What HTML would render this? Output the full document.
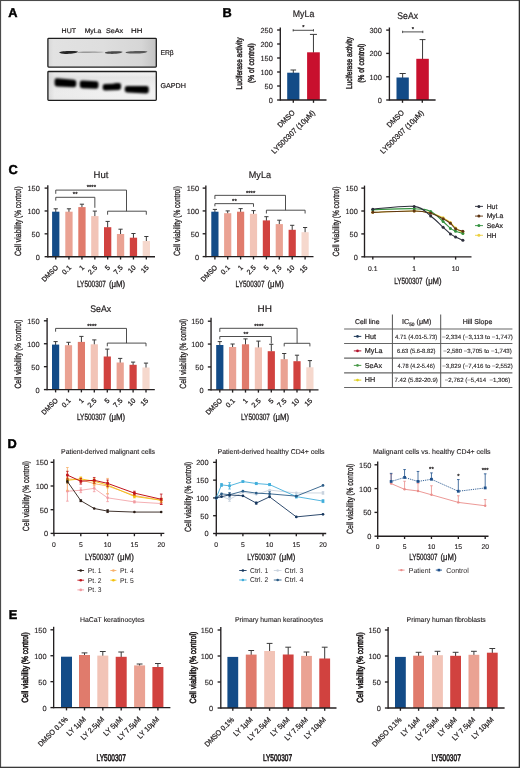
<!DOCTYPE html>
<html><head><meta charset="utf-8"><title>Figure</title><style>html,body{margin:0;padding:0;background:#fff;}svg{display:block;will-change:transform;}text{font-family:"Liberation Sans", sans-serif;text-rendering:geometricPrecision;stroke:#231f20;stroke-width:0.25px;} .t{stroke:none;} .t2{stroke-width:0.2px;} .t3{stroke-width:0.12px;} .tk{stroke-width:0.12px;} .pl{stroke:#000;stroke-width:0.45px;} .c{stroke-width:0.3px;} .cm{stroke-width:0.45px;} .cb{stroke-width:0.6px;}</style></head><body>
<svg width="520" height="768" viewBox="0 0 520 768" font-family='"Liberation Sans", sans-serif' fill="#231f20">
<defs><filter id="bl1" x="-20%" y="-100%" width="140%" height="300%"><feGaussianBlur stdDeviation="0.75"/></filter><filter id="bl2" x="-20%" y="-100%" width="140%" height="300%"><feGaussianBlur stdDeviation="0.8"/></filter><linearGradient id="g1" x1="0" y1="0" x2="1" y2="0"><stop offset="0" stop-color="#d6d6d6"/><stop offset="0.05" stop-color="#e2e2e2"/><stop offset="0.5" stop-color="#dedede"/><stop offset="0.86" stop-color="#d6d6d6"/><stop offset="1" stop-color="#c2c2c2"/></linearGradient><linearGradient id="g2" x1="0" y1="0" x2="1" y2="0"><stop offset="0" stop-color="#cfcfcf"/><stop offset="0.06" stop-color="#e6e6e6"/><stop offset="0.5" stop-color="#ececec"/><stop offset="1" stop-color="#efefef"/></linearGradient><linearGradient id="g3" x1="0" y1="0" x2="0" y2="1"><stop offset="0" stop-color="#ffffff" stop-opacity="0"/><stop offset="0.2" stop-color="#d8d8d8" stop-opacity="0.4"/><stop offset="0.8" stop-color="#ffffff" stop-opacity="0.2"/><stop offset="1" stop-color="#ffffff" stop-opacity="0.1"/></linearGradient></defs>
<rect x="0.00" y="0.00" width="520.00" height="768.00" fill="#ffffff"/>
<text x="8.20" y="16.80" font-size="12.8" class="pl" fill="#000" font-weight="bold">A</text>
<text x="222.60" y="16.80" font-size="12.8" class="pl" fill="#000" font-weight="bold">B</text>
<text x="8.40" y="174.40" font-size="12.8" class="pl" fill="#000" font-weight="bold">C</text>
<text x="7.60" y="447.70" font-size="12.8" class="pl" fill="#000" font-weight="bold">D</text>
<text x="8.80" y="619.00" font-size="12.8" class="pl" fill="#000" font-weight="bold">E</text>
<rect x="47.80" y="38.30" width="108.90" height="28.80" fill="url(#g1)"/>
<g filter="url(#bl1)">
<path d="M59.0,52.6 C61,50.9 72,50.7 77.9,51.4 C77.9,52.6 74,53.4 69,53.8 C64,54.2 60.3,53.9 59.0,52.6 Z" fill="#262626"/>
<path d="M77.5,52.0 C85,51.4 98,51.4 104.5,52.1 C98,53.1 85,53.1 77.5,52.7 Z" fill="#999999"/>
<path d="M104.8,52.8 C106.3,51.2 118,51.0 122.5,51.8 C122.5,53.0 118,53.8 112,53.9 C107,53.9 105.3,53.6 104.8,52.8 Z" fill="#484848"/>
<path d="M125.4,52.5 C127,51.1 142,50.8 147.4,51.4 C147.4,52.6 142,53.4 135,53.6 C129,53.7 126.2,53.4 125.4,52.5 Z" fill="#585858"/>
</g>
<rect x="47.9" y="38.4" width="108.4" height="28.7" rx="0.8" fill="none" stroke="#1e1e1e" stroke-width="1.3"/>
<rect x="47.80" y="71.40" width="108.90" height="29.00" fill="url(#g2)"/>
<rect x="47.8" y="71.4" width="108.9" height="29.0" fill="url(#g3)"/>
<g filter="url(#bl2)">
<path d="M54.6,80.2 Q54.6,78.2 57.0,78.3 L74.0,79.7 Q76.3,79.9 76.3,82.1 L76.2,85.2 Q76.1,87.3 73.8,87.3 L57.2,86.5 Q54.7,86.4 54.6,84.2 Z" fill="#060606"/>
<path d="M79.8,82.6 Q79.8,80.6 82.2,80.6 L96.2,81.2 Q98.5,81.3 98.5,83.4 L98.4,86.8 Q98.3,88.8 96.0,88.8 L82.2,88.2 Q79.9,88.1 79.8,86.0 Z" fill="#060606"/>
<path d="M102.7,86.1 Q102.7,84.1 105.1,84.0 L112.8,83.7 L116.0,82.9 L119.0,83.0 Q121.1,83.1 121.1,85.2 L121.0,88.1 Q120.9,89.8 118.8,89.9 L105.2,90.4 Q102.8,90.4 102.7,88.5 Z" fill="#060606"/>
<path d="M124.8,88.1 Q124.8,86.1 127.3,86.1 L146.4,85.9 Q148.8,85.9 148.8,88.3 L148.7,91.5 Q148.6,93.5 146.1,93.5 L127.4,92.5 Q124.9,92.4 124.8,90.5 Z" fill="#060606"/>
</g>
<rect x="47.9" y="71.5" width="108.4" height="28.8" rx="0.8" fill="none" stroke="#1e1e1e" stroke-width="1.3"/>
<text x="61.60" y="32.60" font-size="6.7" class="t2" textLength="14.40" lengthAdjust="spacingAndGlyphs">HUT</text>
<text x="84.70" y="32.60" font-size="6.7" class="t2" textLength="16.60" lengthAdjust="spacingAndGlyphs">MyLa</text>
<text x="106.00" y="32.60" font-size="6.7" class="t2" textLength="17.20" lengthAdjust="spacingAndGlyphs">SeAx</text>
<text x="131.00" y="32.60" font-size="6.7" class="t2" textLength="11.40" lengthAdjust="spacingAndGlyphs">HH</text>
<text x="160.40" y="55.00" font-size="7.0" class="t2" textLength="13.30" lengthAdjust="spacingAndGlyphs">ER&#946;</text>
<text x="160.40" y="88.40" font-size="7.0" class="t2" textLength="25.60" lengthAdjust="spacingAndGlyphs">GAPDH</text>
<line x1="293.30" y1="73.20" x2="293.30" y2="70.00" stroke="#3a3a3a" stroke-width="1.0"/>
<line x1="290.50" y1="70.00" x2="296.10" y2="70.00" stroke="#3a3a3a" stroke-width="1.0"/>
<rect x="287.20" y="72.70" width="12.20" height="27.30" fill="#134b87"/>
<line x1="313.45" y1="52.80" x2="313.45" y2="34.40" stroke="#3a3a3a" stroke-width="1.0"/>
<line x1="309.95" y1="34.40" x2="316.95" y2="34.40" stroke="#3a3a3a" stroke-width="1.0"/>
<rect x="307.10" y="52.30" width="12.70" height="47.70" fill="#c8102e"/>
<line x1="280.30" y1="27.40" x2="280.30" y2="100.67" stroke="#231f20" stroke-width="1.35"/>
<line x1="277.10" y1="30.00" x2="280.30" y2="30.00" stroke="#231f20" stroke-width="1.35"/>
<text x="272.80" y="32.95" font-size="7.4" class="tk" text-anchor="end">250</text>
<line x1="277.10" y1="44.00" x2="280.30" y2="44.00" stroke="#231f20" stroke-width="1.35"/>
<text x="272.80" y="46.95" font-size="7.4" class="tk" text-anchor="end">200</text>
<line x1="277.10" y1="58.00" x2="280.30" y2="58.00" stroke="#231f20" stroke-width="1.35"/>
<text x="272.80" y="60.95" font-size="7.4" class="tk" text-anchor="end">150</text>
<line x1="277.10" y1="72.00" x2="280.30" y2="72.00" stroke="#231f20" stroke-width="1.35"/>
<text x="272.80" y="74.95" font-size="7.4" class="tk" text-anchor="end">100</text>
<line x1="277.10" y1="86.00" x2="280.30" y2="86.00" stroke="#231f20" stroke-width="1.35"/>
<text x="272.80" y="88.95" font-size="7.4" class="tk" text-anchor="end">50</text>
<line x1="277.10" y1="100.00" x2="280.30" y2="100.00" stroke="#231f20" stroke-width="1.35"/>
<text x="272.80" y="102.95" font-size="7.4" class="tk" text-anchor="end">0</text>
<line x1="280.30" y1="100.00" x2="326.50" y2="100.00" stroke="#231f20" stroke-width="1.35"/>
<line x1="293.30" y1="100.00" x2="293.30" y2="102.80" stroke="#231f20" stroke-width="1.35"/>
<line x1="313.50" y1="100.00" x2="313.50" y2="102.80" stroke="#231f20" stroke-width="1.35"/>
<line x1="292.90" y1="30.30" x2="313.80" y2="30.30" stroke="#3a3a3a" stroke-width="0.9"/>
<line x1="293.20" y1="29.10" x2="293.20" y2="31.50" stroke="#3a3a3a" stroke-width="0.8"/>
<line x1="313.50" y1="29.10" x2="313.50" y2="31.50" stroke="#3a3a3a" stroke-width="0.8"/>
<text x="303.30" y="29.20" font-size="5.8" text-anchor="middle">*</text>
<text x="292.80" y="16.90" font-size="9.6" class="t2" textLength="21.50" lengthAdjust="spacingAndGlyphs">MyLa</text>
<text transform="translate(242.26,63.40) rotate(-90)" font-size="8.5" class="cm" text-anchor="middle" textLength="52.00" lengthAdjust="spacingAndGlyphs">Luciferase activity</text>
<text transform="translate(254.16,63.10) rotate(-90)" font-size="8.5" class="cm" text-anchor="middle" textLength="39.60" lengthAdjust="spacingAndGlyphs">(% of control)</text>
<text transform="translate(295.35,113.25) rotate(-45)" font-size="7.6" text-anchor="end" textLength="21.00" lengthAdjust="spacingAndGlyphs">DMSO</text>
<text transform="translate(315.55,113.25) rotate(-45)" font-size="7.6" text-anchor="end" textLength="58.00" lengthAdjust="spacingAndGlyphs">LY500307 (10&#956;M)</text>
<line x1="402.65" y1="78.00" x2="402.65" y2="73.50" stroke="#3a3a3a" stroke-width="1.0"/>
<line x1="399.55" y1="73.50" x2="405.75" y2="73.50" stroke="#3a3a3a" stroke-width="1.0"/>
<rect x="396.50" y="77.50" width="12.30" height="22.50" fill="#134b87"/>
<line x1="422.55" y1="59.30" x2="422.55" y2="39.60" stroke="#3a3a3a" stroke-width="1.0"/>
<line x1="419.60" y1="39.60" x2="425.50" y2="39.60" stroke="#3a3a3a" stroke-width="1.0"/>
<rect x="416.30" y="58.80" width="12.50" height="41.20" fill="#c8102e"/>
<line x1="389.40" y1="27.50" x2="389.40" y2="100.67" stroke="#231f20" stroke-width="1.35"/>
<line x1="386.20" y1="30.10" x2="389.40" y2="30.10" stroke="#231f20" stroke-width="1.35"/>
<text x="381.80" y="33.05" font-size="7.4" class="tk" text-anchor="end">300</text>
<line x1="386.20" y1="53.40" x2="389.40" y2="53.40" stroke="#231f20" stroke-width="1.35"/>
<text x="381.80" y="56.35" font-size="7.4" class="tk" text-anchor="end">200</text>
<line x1="386.20" y1="76.80" x2="389.40" y2="76.80" stroke="#231f20" stroke-width="1.35"/>
<text x="381.80" y="79.75" font-size="7.4" class="tk" text-anchor="end">100</text>
<line x1="386.20" y1="100.00" x2="389.40" y2="100.00" stroke="#231f20" stroke-width="1.35"/>
<text x="381.80" y="102.95" font-size="7.4" class="tk" text-anchor="end">0</text>
<line x1="389.40" y1="100.00" x2="435.60" y2="100.00" stroke="#231f20" stroke-width="1.35"/>
<line x1="402.50" y1="100.00" x2="402.50" y2="102.80" stroke="#231f20" stroke-width="1.35"/>
<line x1="422.30" y1="100.00" x2="422.30" y2="102.80" stroke="#231f20" stroke-width="1.35"/>
<line x1="402.30" y1="31.90" x2="423.10" y2="31.90" stroke="#3a3a3a" stroke-width="0.9"/>
<line x1="402.60" y1="30.70" x2="402.60" y2="33.10" stroke="#3a3a3a" stroke-width="0.8"/>
<line x1="422.80" y1="30.70" x2="422.80" y2="33.10" stroke="#3a3a3a" stroke-width="0.8"/>
<text x="412.80" y="30.70" font-size="5.8" text-anchor="middle">*</text>
<text x="397.30" y="19.30" font-size="9.6" class="t2" textLength="20.70" lengthAdjust="spacingAndGlyphs">SeAx</text>
<text transform="translate(351.87,63.00) rotate(-90)" font-size="8.5" class="cm" text-anchor="middle" textLength="52.20" lengthAdjust="spacingAndGlyphs">Luciferase activity</text>
<text transform="translate(364.46,63.20) rotate(-90)" font-size="8.5" class="cm" text-anchor="middle" textLength="39.00" lengthAdjust="spacingAndGlyphs">(% of control)</text>
<text transform="translate(404.55,113.25) rotate(-45)" font-size="7.6" text-anchor="end" textLength="21.00" lengthAdjust="spacingAndGlyphs">DMSO</text>
<text transform="translate(424.35,113.25) rotate(-45)" font-size="7.6" text-anchor="end" textLength="58.00" lengthAdjust="spacingAndGlyphs">LY500307 (10&#956;M)</text>
<line x1="55.75" y1="212.20" x2="55.75" y2="208.80" stroke="#3a3a3a" stroke-width="1.0"/>
<line x1="53.65" y1="208.80" x2="57.85" y2="208.80" stroke="#3a3a3a" stroke-width="1.0"/>
<rect x="52.10" y="211.70" width="7.30" height="45.00" fill="#134b87"/>
<line x1="68.95" y1="212.20" x2="68.95" y2="208.80" stroke="#3a3a3a" stroke-width="1.0"/>
<line x1="66.85" y1="208.80" x2="71.05" y2="208.80" stroke="#3a3a3a" stroke-width="1.0"/>
<rect x="65.30" y="211.70" width="7.30" height="45.00" fill="#eaa293"/>
<line x1="81.95" y1="207.60" x2="81.95" y2="204.20" stroke="#3a3a3a" stroke-width="1.0"/>
<line x1="79.85" y1="204.20" x2="84.05" y2="204.20" stroke="#3a3a3a" stroke-width="1.0"/>
<rect x="78.30" y="207.10" width="7.30" height="49.60" fill="#e07b6c"/>
<line x1="94.85" y1="216.60" x2="94.85" y2="211.10" stroke="#3a3a3a" stroke-width="1.0"/>
<line x1="92.75" y1="211.10" x2="96.95" y2="211.10" stroke="#3a3a3a" stroke-width="1.0"/>
<rect x="91.20" y="216.10" width="7.30" height="40.60" fill="#f2c4b7"/>
<line x1="107.65" y1="227.70" x2="107.65" y2="221.40" stroke="#3a3a3a" stroke-width="1.0"/>
<line x1="105.55" y1="221.40" x2="109.75" y2="221.40" stroke="#3a3a3a" stroke-width="1.0"/>
<rect x="104.00" y="227.20" width="7.30" height="29.50" fill="#d1423f"/>
<line x1="120.55" y1="234.50" x2="120.55" y2="229.20" stroke="#3a3a3a" stroke-width="1.0"/>
<line x1="118.45" y1="229.20" x2="122.65" y2="229.20" stroke="#3a3a3a" stroke-width="1.0"/>
<rect x="116.90" y="234.00" width="7.30" height="22.70" fill="#eaa293"/>
<line x1="133.45" y1="238.20" x2="133.45" y2="233.50" stroke="#3a3a3a" stroke-width="1.0"/>
<line x1="131.35" y1="233.50" x2="135.55" y2="233.50" stroke="#3a3a3a" stroke-width="1.0"/>
<rect x="129.80" y="237.70" width="7.30" height="19.00" fill="#d1423f"/>
<line x1="146.35" y1="241.50" x2="146.35" y2="236.50" stroke="#3a3a3a" stroke-width="1.0"/>
<line x1="144.25" y1="236.50" x2="148.45" y2="236.50" stroke="#3a3a3a" stroke-width="1.0"/>
<rect x="142.70" y="241.00" width="7.30" height="15.70" fill="#f6d8cd"/>
<line x1="47.80" y1="185.20" x2="47.80" y2="257.38" stroke="#231f20" stroke-width="1.35"/>
<line x1="44.60" y1="188.10" x2="47.80" y2="188.10" stroke="#231f20" stroke-width="1.35"/>
<text x="39.80" y="191.05" font-size="7.4" class="tk" text-anchor="end">150</text>
<line x1="44.60" y1="210.97" x2="47.80" y2="210.97" stroke="#231f20" stroke-width="1.35"/>
<text x="39.80" y="213.91" font-size="7.4" class="tk" text-anchor="end">100</text>
<line x1="44.60" y1="233.83" x2="47.80" y2="233.83" stroke="#231f20" stroke-width="1.35"/>
<text x="39.80" y="236.78" font-size="7.4" class="tk" text-anchor="end">50</text>
<line x1="44.60" y1="256.70" x2="47.80" y2="256.70" stroke="#231f20" stroke-width="1.35"/>
<text x="39.80" y="259.65" font-size="7.4" class="tk" text-anchor="end">0</text>
<line x1="47.80" y1="256.70" x2="155.00" y2="256.70" stroke="#231f20" stroke-width="1.35"/>
<line x1="55.75" y1="256.70" x2="55.75" y2="259.50" stroke="#231f20" stroke-width="1.35"/>
<line x1="68.95" y1="256.70" x2="68.95" y2="259.50" stroke="#231f20" stroke-width="1.35"/>
<line x1="81.95" y1="256.70" x2="81.95" y2="259.50" stroke="#231f20" stroke-width="1.35"/>
<line x1="94.85" y1="256.70" x2="94.85" y2="259.50" stroke="#231f20" stroke-width="1.35"/>
<line x1="107.65" y1="256.70" x2="107.65" y2="259.50" stroke="#231f20" stroke-width="1.35"/>
<line x1="120.55" y1="256.70" x2="120.55" y2="259.50" stroke="#231f20" stroke-width="1.35"/>
<line x1="133.45" y1="256.70" x2="133.45" y2="259.50" stroke="#231f20" stroke-width="1.35"/>
<line x1="146.35" y1="256.70" x2="146.35" y2="259.50" stroke="#231f20" stroke-width="1.35"/>
<path d="M55.75,193.8 V190.1 H126.5 V211.2" stroke="#3a3a3a" stroke-width="0.9" fill="none"/>
<path d="M107.6,214.7 V211.2 H146.3 V214.7" stroke="#3a3a3a" stroke-width="0.9" fill="none"/>
<path d="M55.75,200.6 V197.3 H94.85 V207.8" stroke="#3a3a3a" stroke-width="0.9" fill="none"/>
<text x="75.20" y="196.30" font-size="6.0" text-anchor="middle">**</text>
<text x="91.30" y="189.40" font-size="6.0" text-anchor="middle">****</text>
<text x="100.95" y="177.50" font-size="9.5" class="t2" text-anchor="middle" textLength="14.80" lengthAdjust="spacingAndGlyphs">Hut</text>
<text transform="translate(21.31,256.00) rotate(-90)" font-size="9.0" class="c" textLength="36.54" lengthAdjust="spacingAndGlyphs">Cell viability</text>
<text transform="translate(21.31,186.40) rotate(-90)" font-size="9.0" class="c" text-anchor="end" textLength="31.60" lengthAdjust="spacingAndGlyphs">(% control)</text>
<text transform="translate(58.55,268.10) rotate(-45)" font-size="7.0" text-anchor="end" textLength="20.00" lengthAdjust="spacingAndGlyphs">DMSO</text>
<text transform="translate(71.75,268.10) rotate(-45)" font-size="7.0" text-anchor="end">0.1</text>
<text transform="translate(84.75,268.10) rotate(-45)" font-size="7.0" text-anchor="end">1</text>
<text transform="translate(97.65,268.10) rotate(-45)" font-size="7.0" text-anchor="end">2.5</text>
<text transform="translate(110.45,268.10) rotate(-45)" font-size="7.0" text-anchor="end">5</text>
<text transform="translate(123.35,268.10) rotate(-45)" font-size="7.0" text-anchor="end">7.5</text>
<text transform="translate(136.25,268.10) rotate(-45)" font-size="7.0" text-anchor="end">10</text>
<text transform="translate(149.15,268.10) rotate(-45)" font-size="7.0" text-anchor="end">15</text>
<text x="77.00" y="287.20" font-size="9.0" class="c" textLength="28.92" lengthAdjust="spacingAndGlyphs">LY500307</text>
<text x="108.91" y="287.20" font-size="9.0" class="c" textLength="16.29" lengthAdjust="spacingAndGlyphs">(&#956;M)</text>
<line x1="214.90" y1="212.20" x2="214.90" y2="209.40" stroke="#3a3a3a" stroke-width="1.0"/>
<line x1="212.80" y1="209.40" x2="217.00" y2="209.40" stroke="#3a3a3a" stroke-width="1.0"/>
<rect x="211.30" y="211.70" width="7.20" height="44.90" fill="#134b87"/>
<line x1="227.70" y1="213.70" x2="227.70" y2="210.90" stroke="#3a3a3a" stroke-width="1.0"/>
<line x1="225.60" y1="210.90" x2="229.80" y2="210.90" stroke="#3a3a3a" stroke-width="1.0"/>
<rect x="224.10" y="213.20" width="7.20" height="43.40" fill="#eaa293"/>
<line x1="240.60" y1="212.20" x2="240.60" y2="208.60" stroke="#3a3a3a" stroke-width="1.0"/>
<line x1="238.50" y1="208.60" x2="242.70" y2="208.60" stroke="#3a3a3a" stroke-width="1.0"/>
<rect x="237.00" y="211.70" width="7.20" height="44.90" fill="#e07b6c"/>
<line x1="253.50" y1="214.30" x2="253.50" y2="210.60" stroke="#3a3a3a" stroke-width="1.0"/>
<line x1="251.40" y1="210.60" x2="255.60" y2="210.60" stroke="#3a3a3a" stroke-width="1.0"/>
<rect x="249.90" y="213.80" width="7.20" height="42.80" fill="#f2c4b7"/>
<line x1="266.40" y1="220.90" x2="266.40" y2="216.70" stroke="#3a3a3a" stroke-width="1.0"/>
<line x1="264.30" y1="216.70" x2="268.50" y2="216.70" stroke="#3a3a3a" stroke-width="1.0"/>
<rect x="262.80" y="220.40" width="7.20" height="36.20" fill="#d1423f"/>
<line x1="279.30" y1="224.60" x2="279.30" y2="220.20" stroke="#3a3a3a" stroke-width="1.0"/>
<line x1="277.20" y1="220.20" x2="281.40" y2="220.20" stroke="#3a3a3a" stroke-width="1.0"/>
<rect x="275.70" y="224.10" width="7.20" height="32.50" fill="#eaa293"/>
<line x1="292.20" y1="230.30" x2="292.20" y2="225.30" stroke="#3a3a3a" stroke-width="1.0"/>
<line x1="290.10" y1="225.30" x2="294.30" y2="225.30" stroke="#3a3a3a" stroke-width="1.0"/>
<rect x="288.60" y="229.80" width="7.20" height="26.80" fill="#d1423f"/>
<line x1="305.10" y1="232.70" x2="305.10" y2="227.50" stroke="#3a3a3a" stroke-width="1.0"/>
<line x1="303.00" y1="227.50" x2="307.20" y2="227.50" stroke="#3a3a3a" stroke-width="1.0"/>
<rect x="301.50" y="232.20" width="7.20" height="24.40" fill="#f6d8cd"/>
<line x1="205.85" y1="185.50" x2="205.85" y2="257.28" stroke="#231f20" stroke-width="1.35"/>
<line x1="202.65" y1="188.10" x2="205.85" y2="188.10" stroke="#231f20" stroke-width="1.35"/>
<text x="199.00" y="191.05" font-size="7.4" class="tk" text-anchor="end">150</text>
<line x1="202.65" y1="210.93" x2="205.85" y2="210.93" stroke="#231f20" stroke-width="1.35"/>
<text x="199.00" y="213.88" font-size="7.4" class="tk" text-anchor="end">100</text>
<line x1="202.65" y1="233.77" x2="205.85" y2="233.77" stroke="#231f20" stroke-width="1.35"/>
<text x="199.00" y="236.71" font-size="7.4" class="tk" text-anchor="end">50</text>
<line x1="202.65" y1="256.60" x2="205.85" y2="256.60" stroke="#231f20" stroke-width="1.35"/>
<text x="199.00" y="259.55" font-size="7.4" class="tk" text-anchor="end">0</text>
<line x1="205.85" y1="256.60" x2="313.50" y2="256.60" stroke="#231f20" stroke-width="1.35"/>
<line x1="214.90" y1="256.60" x2="214.90" y2="259.40" stroke="#231f20" stroke-width="1.35"/>
<line x1="227.70" y1="256.60" x2="227.70" y2="259.40" stroke="#231f20" stroke-width="1.35"/>
<line x1="240.60" y1="256.60" x2="240.60" y2="259.40" stroke="#231f20" stroke-width="1.35"/>
<line x1="253.50" y1="256.60" x2="253.50" y2="259.40" stroke="#231f20" stroke-width="1.35"/>
<line x1="266.40" y1="256.60" x2="266.40" y2="259.40" stroke="#231f20" stroke-width="1.35"/>
<line x1="279.30" y1="256.60" x2="279.30" y2="259.40" stroke="#231f20" stroke-width="1.35"/>
<line x1="292.20" y1="256.60" x2="292.20" y2="259.40" stroke="#231f20" stroke-width="1.35"/>
<line x1="305.10" y1="256.60" x2="305.10" y2="259.40" stroke="#231f20" stroke-width="1.35"/>
<path d="M214.9,199.0 V195.35 H285.5 V210.2" stroke="#3a3a3a" stroke-width="0.9" fill="none"/>
<path d="M266.4,213.5 V210.2 H305.1 V213.5" stroke="#3a3a3a" stroke-width="0.9" fill="none"/>
<path d="M214.9,206.3 V203.65 H253.5 V206.8" stroke="#3a3a3a" stroke-width="0.9" fill="none"/>
<text x="234.40" y="202.80" font-size="6.0" text-anchor="middle">**</text>
<text x="250.60" y="194.60" font-size="6.0" text-anchor="middle">****</text>
<text x="259.90" y="177.50" font-size="9.5" class="t2" text-anchor="middle" textLength="22.20" lengthAdjust="spacingAndGlyphs">MyLa</text>
<text transform="translate(180.21,255.90) rotate(-90)" font-size="9.0" class="c" textLength="36.64" lengthAdjust="spacingAndGlyphs">Cell viability</text>
<text transform="translate(180.21,186.10) rotate(-90)" font-size="9.0" class="c" text-anchor="end" textLength="31.69" lengthAdjust="spacingAndGlyphs">(% control)</text>
<text transform="translate(217.70,268.00) rotate(-45)" font-size="7.0" text-anchor="end" textLength="20.00" lengthAdjust="spacingAndGlyphs">DMSO</text>
<text transform="translate(230.50,268.00) rotate(-45)" font-size="7.0" text-anchor="end">0.1</text>
<text transform="translate(243.40,268.00) rotate(-45)" font-size="7.0" text-anchor="end">1</text>
<text transform="translate(256.30,268.00) rotate(-45)" font-size="7.0" text-anchor="end">2.5</text>
<text transform="translate(269.20,268.00) rotate(-45)" font-size="7.0" text-anchor="end">5</text>
<text transform="translate(282.10,268.00) rotate(-45)" font-size="7.0" text-anchor="end">7.5</text>
<text transform="translate(295.00,268.00) rotate(-45)" font-size="7.0" text-anchor="end">10</text>
<text transform="translate(307.90,268.00) rotate(-45)" font-size="7.0" text-anchor="end">15</text>
<text x="235.60" y="287.20" font-size="9.0" class="c" textLength="28.92" lengthAdjust="spacingAndGlyphs">LY500307</text>
<text x="267.51" y="287.20" font-size="9.0" class="c" textLength="16.29" lengthAdjust="spacingAndGlyphs">(&#956;M)</text>
<line x1="55.60" y1="345.10" x2="55.60" y2="341.60" stroke="#3a3a3a" stroke-width="1.0"/>
<line x1="53.50" y1="341.60" x2="57.70" y2="341.60" stroke="#3a3a3a" stroke-width="1.0"/>
<rect x="52.00" y="344.60" width="7.20" height="45.00" fill="#134b87"/>
<line x1="68.50" y1="345.70" x2="68.50" y2="342.30" stroke="#3a3a3a" stroke-width="1.0"/>
<line x1="66.40" y1="342.30" x2="70.60" y2="342.30" stroke="#3a3a3a" stroke-width="1.0"/>
<rect x="64.90" y="345.20" width="7.20" height="44.40" fill="#eaa293"/>
<line x1="81.40" y1="342.40" x2="81.40" y2="336.40" stroke="#3a3a3a" stroke-width="1.0"/>
<line x1="79.30" y1="336.40" x2="83.50" y2="336.40" stroke="#3a3a3a" stroke-width="1.0"/>
<rect x="77.80" y="341.90" width="7.20" height="47.70" fill="#e07b6c"/>
<line x1="94.30" y1="344.80" x2="94.30" y2="339.90" stroke="#3a3a3a" stroke-width="1.0"/>
<line x1="92.20" y1="339.90" x2="96.40" y2="339.90" stroke="#3a3a3a" stroke-width="1.0"/>
<rect x="90.70" y="344.30" width="7.20" height="45.30" fill="#f2c4b7"/>
<line x1="107.30" y1="357.00" x2="107.30" y2="349.10" stroke="#3a3a3a" stroke-width="1.0"/>
<line x1="105.20" y1="349.10" x2="109.40" y2="349.10" stroke="#3a3a3a" stroke-width="1.0"/>
<rect x="103.70" y="356.50" width="7.20" height="33.10" fill="#d1423f"/>
<line x1="120.20" y1="363.00" x2="120.20" y2="358.40" stroke="#3a3a3a" stroke-width="1.0"/>
<line x1="118.10" y1="358.40" x2="122.30" y2="358.40" stroke="#3a3a3a" stroke-width="1.0"/>
<rect x="116.60" y="362.50" width="7.20" height="27.10" fill="#eaa293"/>
<line x1="133.10" y1="365.30" x2="133.10" y2="362.10" stroke="#3a3a3a" stroke-width="1.0"/>
<line x1="131.00" y1="362.10" x2="135.20" y2="362.10" stroke="#3a3a3a" stroke-width="1.0"/>
<rect x="129.50" y="364.80" width="7.20" height="24.80" fill="#d1423f"/>
<line x1="146.00" y1="368.00" x2="146.00" y2="363.10" stroke="#3a3a3a" stroke-width="1.0"/>
<line x1="143.90" y1="363.10" x2="148.10" y2="363.10" stroke="#3a3a3a" stroke-width="1.0"/>
<rect x="142.40" y="367.50" width="7.20" height="22.10" fill="#f6d8cd"/>
<line x1="47.10" y1="317.90" x2="47.10" y2="390.28" stroke="#231f20" stroke-width="1.35"/>
<line x1="43.90" y1="320.80" x2="47.10" y2="320.80" stroke="#231f20" stroke-width="1.35"/>
<text x="39.60" y="323.75" font-size="7.4" class="tk" text-anchor="end">150</text>
<line x1="43.90" y1="343.73" x2="47.10" y2="343.73" stroke="#231f20" stroke-width="1.35"/>
<text x="39.60" y="346.68" font-size="7.4" class="tk" text-anchor="end">100</text>
<line x1="43.90" y1="366.67" x2="47.10" y2="366.67" stroke="#231f20" stroke-width="1.35"/>
<text x="39.60" y="369.61" font-size="7.4" class="tk" text-anchor="end">50</text>
<line x1="43.90" y1="389.60" x2="47.10" y2="389.60" stroke="#231f20" stroke-width="1.35"/>
<text x="39.60" y="392.55" font-size="7.4" class="tk" text-anchor="end">0</text>
<line x1="47.10" y1="389.60" x2="154.80" y2="389.60" stroke="#231f20" stroke-width="1.35"/>
<line x1="55.60" y1="389.60" x2="55.60" y2="392.40" stroke="#231f20" stroke-width="1.35"/>
<line x1="68.50" y1="389.60" x2="68.50" y2="392.40" stroke="#231f20" stroke-width="1.35"/>
<line x1="81.40" y1="389.60" x2="81.40" y2="392.40" stroke="#231f20" stroke-width="1.35"/>
<line x1="94.30" y1="389.60" x2="94.30" y2="392.40" stroke="#231f20" stroke-width="1.35"/>
<line x1="107.30" y1="389.60" x2="107.30" y2="392.40" stroke="#231f20" stroke-width="1.35"/>
<line x1="120.20" y1="389.60" x2="120.20" y2="392.40" stroke="#231f20" stroke-width="1.35"/>
<line x1="133.10" y1="389.60" x2="133.10" y2="392.40" stroke="#231f20" stroke-width="1.35"/>
<line x1="146.00" y1="389.60" x2="146.00" y2="392.40" stroke="#231f20" stroke-width="1.35"/>
<path d="M55.6,331.7 V328.4 H126.5 V343.1" stroke="#3a3a3a" stroke-width="0.9" fill="none"/>
<path d="M107.3,346.3 V343.1 H146.0 V346.3" stroke="#3a3a3a" stroke-width="0.9" fill="none"/>
<text x="91.90" y="327.70" font-size="6.0" text-anchor="middle">****</text>
<text x="100.70" y="311.60" font-size="9.5" class="t2" text-anchor="middle" textLength="20.90" lengthAdjust="spacingAndGlyphs">SeAx</text>
<text transform="translate(21.01,388.60) rotate(-90)" font-size="9.0" class="c" textLength="36.28" lengthAdjust="spacingAndGlyphs">Cell viability</text>
<text transform="translate(21.01,319.50) rotate(-90)" font-size="9.0" class="c" text-anchor="end" textLength="31.37" lengthAdjust="spacingAndGlyphs">(% control)</text>
<text transform="translate(58.40,401.00) rotate(-45)" font-size="7.0" text-anchor="end" textLength="20.00" lengthAdjust="spacingAndGlyphs">DMSO</text>
<text transform="translate(71.30,401.00) rotate(-45)" font-size="7.0" text-anchor="end">0.1</text>
<text transform="translate(84.20,401.00) rotate(-45)" font-size="7.0" text-anchor="end">1</text>
<text transform="translate(97.10,401.00) rotate(-45)" font-size="7.0" text-anchor="end">2.5</text>
<text transform="translate(110.10,401.00) rotate(-45)" font-size="7.0" text-anchor="end">5</text>
<text transform="translate(123.00,401.00) rotate(-45)" font-size="7.0" text-anchor="end">7.5</text>
<text transform="translate(135.90,401.00) rotate(-45)" font-size="7.0" text-anchor="end">10</text>
<text transform="translate(148.80,401.00) rotate(-45)" font-size="7.0" text-anchor="end">15</text>
<text x="77.00" y="420.20" font-size="9.0" class="c" textLength="28.92" lengthAdjust="spacingAndGlyphs">LY500307</text>
<text x="108.91" y="420.20" font-size="9.0" class="c" textLength="16.29" lengthAdjust="spacingAndGlyphs">(&#956;M)</text>
<line x1="219.80" y1="345.50" x2="219.80" y2="341.60" stroke="#3a3a3a" stroke-width="1.0"/>
<line x1="217.70" y1="341.60" x2="221.90" y2="341.60" stroke="#3a3a3a" stroke-width="1.0"/>
<rect x="216.20" y="345.00" width="7.20" height="44.80" fill="#134b87"/>
<line x1="232.60" y1="347.50" x2="232.60" y2="344.00" stroke="#3a3a3a" stroke-width="1.0"/>
<line x1="230.50" y1="344.00" x2="234.70" y2="344.00" stroke="#3a3a3a" stroke-width="1.0"/>
<rect x="229.00" y="347.00" width="7.20" height="42.80" fill="#eaa293"/>
<line x1="245.50" y1="344.80" x2="245.50" y2="338.90" stroke="#3a3a3a" stroke-width="1.0"/>
<line x1="243.40" y1="338.90" x2="247.60" y2="338.90" stroke="#3a3a3a" stroke-width="1.0"/>
<rect x="241.90" y="344.30" width="7.20" height="45.50" fill="#e07b6c"/>
<line x1="258.40" y1="347.90" x2="258.40" y2="341.10" stroke="#3a3a3a" stroke-width="1.0"/>
<line x1="256.30" y1="341.10" x2="260.50" y2="341.10" stroke="#3a3a3a" stroke-width="1.0"/>
<rect x="254.80" y="347.40" width="7.20" height="42.40" fill="#f2c4b7"/>
<line x1="271.30" y1="351.70" x2="271.30" y2="344.30" stroke="#3a3a3a" stroke-width="1.0"/>
<line x1="269.20" y1="344.30" x2="273.40" y2="344.30" stroke="#3a3a3a" stroke-width="1.0"/>
<rect x="267.70" y="351.20" width="7.20" height="38.60" fill="#d1423f"/>
<line x1="284.20" y1="359.70" x2="284.20" y2="353.50" stroke="#3a3a3a" stroke-width="1.0"/>
<line x1="282.10" y1="353.50" x2="286.30" y2="353.50" stroke="#3a3a3a" stroke-width="1.0"/>
<rect x="280.60" y="359.20" width="7.20" height="30.60" fill="#eaa293"/>
<line x1="297.00" y1="361.70" x2="297.00" y2="355.20" stroke="#3a3a3a" stroke-width="1.0"/>
<line x1="294.90" y1="355.20" x2="299.10" y2="355.20" stroke="#3a3a3a" stroke-width="1.0"/>
<rect x="293.40" y="361.20" width="7.20" height="28.60" fill="#d1423f"/>
<line x1="309.90" y1="367.80" x2="309.90" y2="360.60" stroke="#3a3a3a" stroke-width="1.0"/>
<line x1="307.80" y1="360.60" x2="312.00" y2="360.60" stroke="#3a3a3a" stroke-width="1.0"/>
<rect x="306.30" y="367.30" width="7.20" height="22.50" fill="#f6d8cd"/>
<line x1="211.05" y1="317.80" x2="211.05" y2="390.48" stroke="#231f20" stroke-width="1.35"/>
<line x1="207.85" y1="321.20" x2="211.05" y2="321.20" stroke="#231f20" stroke-width="1.35"/>
<text x="203.60" y="324.15" font-size="7.4" class="tk" text-anchor="end">150</text>
<line x1="207.85" y1="344.07" x2="211.05" y2="344.07" stroke="#231f20" stroke-width="1.35"/>
<text x="203.60" y="347.01" font-size="7.4" class="tk" text-anchor="end">100</text>
<line x1="207.85" y1="366.93" x2="211.05" y2="366.93" stroke="#231f20" stroke-width="1.35"/>
<text x="203.60" y="369.88" font-size="7.4" class="tk" text-anchor="end">50</text>
<line x1="207.85" y1="389.80" x2="211.05" y2="389.80" stroke="#231f20" stroke-width="1.35"/>
<text x="203.60" y="392.75" font-size="7.4" class="tk" text-anchor="end">0</text>
<line x1="211.05" y1="389.80" x2="318.50" y2="389.80" stroke="#231f20" stroke-width="1.35"/>
<line x1="219.80" y1="389.80" x2="219.80" y2="392.60" stroke="#231f20" stroke-width="1.35"/>
<line x1="232.60" y1="389.80" x2="232.60" y2="392.60" stroke="#231f20" stroke-width="1.35"/>
<line x1="245.50" y1="389.80" x2="245.50" y2="392.60" stroke="#231f20" stroke-width="1.35"/>
<line x1="258.40" y1="389.80" x2="258.40" y2="392.60" stroke="#231f20" stroke-width="1.35"/>
<line x1="271.30" y1="389.80" x2="271.30" y2="392.60" stroke="#231f20" stroke-width="1.35"/>
<line x1="284.20" y1="389.80" x2="284.20" y2="392.60" stroke="#231f20" stroke-width="1.35"/>
<line x1="297.00" y1="389.80" x2="297.00" y2="392.60" stroke="#231f20" stroke-width="1.35"/>
<line x1="309.90" y1="389.80" x2="309.90" y2="392.60" stroke="#231f20" stroke-width="1.35"/>
<path d="M219.8,331.9 V328.3 H297.1 V343.3" stroke="#3a3a3a" stroke-width="0.9" fill="none"/>
<path d="M284.2,346.4 V343.3 H309.9 V346.4" stroke="#3a3a3a" stroke-width="0.9" fill="none"/>
<path d="M219.8,339.4 V336.5 H271.3 V343.5" stroke="#3a3a3a" stroke-width="0.9" fill="none"/>
<text x="245.90" y="336.00" font-size="6.0" text-anchor="middle">**</text>
<text x="258.90" y="327.90" font-size="6.0" text-anchor="middle">****</text>
<text x="264.70" y="311.50" font-size="9.5" class="t2" text-anchor="middle" textLength="14.40" lengthAdjust="spacingAndGlyphs">HH</text>
<text transform="translate(185.61,388.80) rotate(-90)" font-size="9.0" class="c" textLength="36.75" lengthAdjust="spacingAndGlyphs">Cell viability</text>
<text transform="translate(185.61,318.80) rotate(-90)" font-size="9.0" class="c" text-anchor="end" textLength="31.78" lengthAdjust="spacingAndGlyphs">(% control)</text>
<text transform="translate(222.60,401.20) rotate(-45)" font-size="7.0" text-anchor="end" textLength="20.00" lengthAdjust="spacingAndGlyphs">DMSO</text>
<text transform="translate(235.40,401.20) rotate(-45)" font-size="7.0" text-anchor="end">0.1</text>
<text transform="translate(248.30,401.20) rotate(-45)" font-size="7.0" text-anchor="end">1</text>
<text transform="translate(261.20,401.20) rotate(-45)" font-size="7.0" text-anchor="end">2.5</text>
<text transform="translate(274.10,401.20) rotate(-45)" font-size="7.0" text-anchor="end">5</text>
<text transform="translate(287.00,401.20) rotate(-45)" font-size="7.0" text-anchor="end">7.5</text>
<text transform="translate(299.80,401.20) rotate(-45)" font-size="7.0" text-anchor="end">10</text>
<text transform="translate(312.70,401.20) rotate(-45)" font-size="7.0" text-anchor="end">15</text>
<text x="241.00" y="420.20" font-size="9.0" class="c" textLength="28.92" lengthAdjust="spacingAndGlyphs">LY500307</text>
<text x="272.91" y="420.20" font-size="9.0" class="c" textLength="16.29" lengthAdjust="spacingAndGlyphs">(&#956;M)</text>
<line x1="364.50" y1="185.60" x2="364.50" y2="257.48" stroke="#231f20" stroke-width="1.35"/>
<line x1="361.30" y1="188.10" x2="364.50" y2="188.10" stroke="#231f20" stroke-width="1.35"/>
<text x="357.80" y="191.05" font-size="7.4" class="tk" text-anchor="end">150</text>
<line x1="361.30" y1="211.00" x2="364.50" y2="211.00" stroke="#231f20" stroke-width="1.35"/>
<text x="357.80" y="213.95" font-size="7.4" class="tk" text-anchor="end">100</text>
<line x1="361.30" y1="233.90" x2="364.50" y2="233.90" stroke="#231f20" stroke-width="1.35"/>
<text x="357.80" y="236.85" font-size="7.4" class="tk" text-anchor="end">50</text>
<line x1="361.30" y1="256.80" x2="364.50" y2="256.80" stroke="#231f20" stroke-width="1.35"/>
<text x="357.80" y="259.75" font-size="7.4" class="tk" text-anchor="end">0</text>
<line x1="364.50" y1="256.80" x2="471.50" y2="256.80" stroke="#231f20" stroke-width="1.35"/>
<line x1="372.80" y1="256.80" x2="372.80" y2="259.60" stroke="#231f20" stroke-width="1.35"/>
<line x1="414.20" y1="256.80" x2="414.20" y2="259.60" stroke="#231f20" stroke-width="1.35"/>
<line x1="455.60" y1="256.80" x2="455.60" y2="259.60" stroke="#231f20" stroke-width="1.35"/>
<text x="372.80" y="270.50" font-size="6.8" class="tk" text-anchor="middle">0.1</text>
<text x="414.20" y="270.50" font-size="6.8" class="tk" text-anchor="middle">1</text>
<text x="455.60" y="270.50" font-size="6.8" class="tk" text-anchor="middle">10</text>
<text x="394.20" y="284.00" font-size="9.0" class="c" textLength="28.44" lengthAdjust="spacingAndGlyphs">LY500307</text>
<text x="425.58" y="284.00" font-size="9.0" class="c" textLength="16.02" lengthAdjust="spacingAndGlyphs">(&#956;M)</text>
<text transform="translate(338.91,256.40) rotate(-90)" font-size="9.0" class="c" textLength="36.70" lengthAdjust="spacingAndGlyphs">Cell viability</text>
<text transform="translate(338.91,186.50) rotate(-90)" font-size="9.0" class="c" text-anchor="end" textLength="31.73" lengthAdjust="spacingAndGlyphs">(% control)</text>
<path d="M372.80,212.37 C379.70,212.14 404.55,210.92 414.20,211.00 C423.85,211.08 425.85,211.69 430.67,212.83 C435.50,213.98 439.85,216.27 443.14,217.87 C446.43,219.47 448.35,220.77 450.43,222.45 C452.50,224.13 453.52,226.19 455.60,227.95 C457.68,229.70 461.68,232.14 462.89,232.98" stroke="#ecd040" stroke-width="1.1" fill="none"/>
<circle cx="372.80" cy="212.37" r="1.5" fill="#ecd040"/>
<circle cx="414.20" cy="211.00" r="1.5" fill="#ecd040"/>
<circle cx="430.67" cy="212.83" r="1.5" fill="#ecd040"/>
<circle cx="443.14" cy="217.87" r="1.5" fill="#ecd040"/>
<circle cx="450.43" cy="222.45" r="1.5" fill="#ecd040"/>
<circle cx="455.60" cy="227.95" r="1.5" fill="#ecd040"/>
<circle cx="462.89" cy="232.98" r="1.5" fill="#ecd040"/>
<path d="M372.80,209.63 C379.70,209.47 404.55,208.40 414.20,208.71 C423.85,209.02 425.85,209.32 430.67,211.46 C435.50,213.60 439.85,218.71 443.14,221.53 C446.43,224.36 448.35,226.80 450.43,228.40 C452.50,230.01 453.52,230.31 455.60,231.15 C457.68,231.99 461.68,233.06 462.89,233.44" stroke="#33923f" stroke-width="1.1" fill="none"/>
<circle cx="372.80" cy="209.63" r="1.5" fill="#33923f"/>
<circle cx="414.20" cy="208.71" r="1.5" fill="#33923f"/>
<circle cx="430.67" cy="211.46" r="1.5" fill="#33923f"/>
<circle cx="443.14" cy="221.53" r="1.5" fill="#33923f"/>
<circle cx="450.43" cy="228.40" r="1.5" fill="#33923f"/>
<circle cx="455.60" cy="231.15" r="1.5" fill="#33923f"/>
<circle cx="462.89" cy="233.44" r="1.5" fill="#33923f"/>
<path d="M372.80,212.37 C379.70,212.14 404.55,210.85 414.20,211.00 C423.85,211.15 425.85,211.99 430.67,213.29 C435.50,214.59 439.85,217.11 443.14,218.79 C446.43,220.47 448.35,221.69 450.43,223.37 C452.50,225.05 453.52,227.56 455.60,228.86 C457.68,230.16 461.68,230.77 462.89,231.15" stroke="#5e3412" stroke-width="1.1" fill="none"/>
<circle cx="372.80" cy="212.37" r="1.5" fill="#5e3412"/>
<circle cx="414.20" cy="211.00" r="1.5" fill="#5e3412"/>
<circle cx="430.67" cy="213.29" r="1.5" fill="#5e3412"/>
<circle cx="443.14" cy="218.79" r="1.5" fill="#5e3412"/>
<circle cx="450.43" cy="223.37" r="1.5" fill="#5e3412"/>
<circle cx="455.60" cy="228.86" r="1.5" fill="#5e3412"/>
<circle cx="462.89" cy="231.15" r="1.5" fill="#5e3412"/>
<path d="M372.80,209.17 C379.70,208.71 404.55,205.27 414.20,206.42 C423.85,207.56 425.85,212.56 430.67,216.04 C435.50,219.52 439.85,224.33 443.14,227.30 C446.43,230.28 448.35,232.27 450.43,233.90 C452.50,235.53 453.52,236.04 455.60,237.11 C457.68,238.17 461.68,239.78 462.89,240.31" stroke="#2d2f3c" stroke-width="1.1" fill="none"/>
<circle cx="372.80" cy="209.17" r="1.5" fill="#2d2f3c"/>
<circle cx="414.20" cy="206.42" r="1.5" fill="#2d2f3c"/>
<circle cx="430.67" cy="216.04" r="1.5" fill="#2d2f3c"/>
<circle cx="443.14" cy="227.30" r="1.5" fill="#2d2f3c"/>
<circle cx="450.43" cy="233.90" r="1.5" fill="#2d2f3c"/>
<circle cx="455.60" cy="237.11" r="1.5" fill="#2d2f3c"/>
<circle cx="462.89" cy="240.31" r="1.5" fill="#2d2f3c"/>
<line x1="475.00" y1="206.40" x2="483.00" y2="206.40" stroke="#2d2f3c" stroke-width="0.9"/>
<circle cx="478.9" cy="206.4" r="1.5" fill="#2d2f3c"/>
<text x="486.70" y="208.74" font-size="6.8" class="t2">Hut</text>
<line x1="475.00" y1="216.10" x2="483.00" y2="216.10" stroke="#5e3412" stroke-width="0.9"/>
<circle cx="478.9" cy="216.1" r="1.5" fill="#5e3412"/>
<text x="486.70" y="218.44" font-size="6.8" class="t2">MyLa</text>
<line x1="475.00" y1="225.60" x2="483.00" y2="225.60" stroke="#33923f" stroke-width="0.9"/>
<circle cx="478.9" cy="225.6" r="1.5" fill="#33923f"/>
<text x="486.70" y="227.94" font-size="6.8" class="t2">SeAx</text>
<line x1="475.00" y1="235.30" x2="483.00" y2="235.30" stroke="#ecd040" stroke-width="0.9"/>
<circle cx="478.9" cy="235.3" r="1.5" fill="#ecd040"/>
<text x="486.70" y="237.64" font-size="6.8" class="t2">HH</text>
<line x1="344.10" y1="329.00" x2="512.40" y2="329.00" stroke="#666666" stroke-width="1.2"/>
<line x1="344.10" y1="343.50" x2="512.40" y2="343.50" stroke="#666666" stroke-width="1.2"/>
<line x1="344.10" y1="358.10" x2="512.40" y2="358.10" stroke="#666666" stroke-width="1.2"/>
<line x1="344.10" y1="372.80" x2="512.40" y2="372.80" stroke="#666666" stroke-width="1.2"/>
<line x1="344.10" y1="387.50" x2="512.40" y2="387.50" stroke="#666666" stroke-width="1.2"/>
<line x1="392.40" y1="314.50" x2="392.40" y2="387.50" stroke="#555555" stroke-width="1.0"/>
<line x1="440.70" y1="314.50" x2="440.70" y2="387.50" stroke="#555555" stroke-width="1.0"/>
<text x="367.20" y="323.50" font-size="7.0" class="t2" text-anchor="middle" textLength="24.60" lengthAdjust="spacingAndGlyphs">Cell line</text>
<text x="402.0" y="323.6" font-size="7.2" class="t2">IC<tspan font-size="4.8" dy="2.0">50</tspan><tspan dy="-2.0"> (&#956;M)</tspan></text>
<text x="477.50" y="323.50" font-size="7.0" class="t2" text-anchor="middle">Hill Slope</text>
<line x1="353.80" y1="336.40" x2="361.30" y2="336.40" stroke="#1f3a5a" stroke-width="1.0"/>
<circle cx="357.5" cy="336.4" r="1.3" fill="#1f3a5a"/>
<text x="364.80" y="338.78" font-size="7.2" class="t2">Hut</text>
<text x="416.20" y="338.56" font-size="6.0" class="t3" text-anchor="middle" textLength="42.30" lengthAdjust="spacingAndGlyphs">4.71 (4.01-5.73)</text>
<text x="477.50" y="338.56" font-size="6.0" class="t3" text-anchor="middle" textLength="70.80" lengthAdjust="spacingAndGlyphs">&#8722;2,334 (&#8722;3,113 to &#8722;1,747)</text>
<line x1="353.80" y1="350.90" x2="361.30" y2="350.90" stroke="#b0102a" stroke-width="1.0"/>
<circle cx="357.5" cy="350.9" r="1.3" fill="#b0102a"/>
<text x="364.80" y="353.28" font-size="7.2" class="t2">MyLa</text>
<text x="416.20" y="353.06" font-size="6.0" class="t3" text-anchor="middle" textLength="38.50" lengthAdjust="spacingAndGlyphs">6.63 (5.6-8.82)</text>
<text x="477.50" y="353.06" font-size="6.0" class="t3" text-anchor="middle" textLength="68.50" lengthAdjust="spacingAndGlyphs">&#8722;2,580 &#8722;3,705 to &#8722;1,743)</text>
<line x1="353.80" y1="365.40" x2="361.30" y2="365.40" stroke="#4a9a4a" stroke-width="1.0"/>
<circle cx="357.5" cy="365.4" r="1.3" fill="#4a9a4a"/>
<text x="364.80" y="367.78" font-size="7.2" class="t2">SeAx</text>
<text x="416.20" y="367.56" font-size="6.0" class="t3" text-anchor="middle" textLength="37.20" lengthAdjust="spacingAndGlyphs">4.78 (4.2-5.46)</text>
<text x="477.50" y="367.56" font-size="6.0" class="t3" text-anchor="middle" textLength="70.50" lengthAdjust="spacingAndGlyphs">&#8722;3,829 (&#8722;7,416 to &#8722;2,552)</text>
<line x1="353.80" y1="380.10" x2="361.30" y2="380.10" stroke="#e0d020" stroke-width="1.0"/>
<circle cx="357.5" cy="380.1" r="1.3" fill="#e0d020"/>
<text x="364.80" y="382.48" font-size="7.2" class="t2">HH</text>
<text x="416.20" y="382.26" font-size="6.0" class="t3" text-anchor="middle" textLength="43.30" lengthAdjust="spacingAndGlyphs">7.42 (5.82-20.9)</text>
<text x="477.50" y="382.26" font-size="6.0" class="t3" text-anchor="middle" textLength="65.50" lengthAdjust="spacingAndGlyphs">&#8722;2,762 (&#8722;5,414 &#160;&#8722;1,306)</text>
<line x1="53.80" y1="459.20" x2="53.80" y2="534.07" stroke="#231f20" stroke-width="1.35"/>
<line x1="50.60" y1="462.30" x2="53.80" y2="462.30" stroke="#231f20" stroke-width="1.35"/>
<text x="48.10" y="465.25" font-size="7.4" class="tk" text-anchor="end">150</text>
<line x1="50.60" y1="486.00" x2="53.80" y2="486.00" stroke="#231f20" stroke-width="1.35"/>
<text x="48.10" y="488.95" font-size="7.4" class="tk" text-anchor="end">100</text>
<line x1="50.60" y1="509.70" x2="53.80" y2="509.70" stroke="#231f20" stroke-width="1.35"/>
<text x="48.10" y="512.65" font-size="7.4" class="tk" text-anchor="end">50</text>
<line x1="50.60" y1="533.40" x2="53.80" y2="533.40" stroke="#231f20" stroke-width="1.35"/>
<text x="48.10" y="536.35" font-size="7.4" class="tk" text-anchor="end">0</text>
<line x1="53.80" y1="533.40" x2="164.30" y2="533.40" stroke="#231f20" stroke-width="1.35"/>
<line x1="54.00" y1="533.40" x2="54.00" y2="536.20" stroke="#231f20" stroke-width="1.35"/>
<line x1="80.80" y1="533.40" x2="80.80" y2="536.20" stroke="#231f20" stroke-width="1.35"/>
<line x1="107.60" y1="533.40" x2="107.60" y2="536.20" stroke="#231f20" stroke-width="1.35"/>
<line x1="134.40" y1="533.40" x2="134.40" y2="536.20" stroke="#231f20" stroke-width="1.35"/>
<line x1="161.20" y1="533.40" x2="161.20" y2="536.20" stroke="#231f20" stroke-width="1.35"/>
<text x="54.00" y="546.60" font-size="6.8" class="tk" text-anchor="middle">0</text>
<text x="80.80" y="546.60" font-size="6.8" class="tk" text-anchor="middle">5</text>
<text x="107.60" y="546.60" font-size="6.8" class="tk" text-anchor="middle">10</text>
<text x="134.40" y="546.60" font-size="6.8" class="tk" text-anchor="middle">15</text>
<text x="161.20" y="546.60" font-size="6.8" class="tk" text-anchor="middle">20</text>
<text x="85.00" y="560.00" font-size="9.0" class="c" textLength="29.28" lengthAdjust="spacingAndGlyphs">LY500307</text>
<text x="117.31" y="560.00" font-size="9.0" class="c" textLength="16.49" lengthAdjust="spacingAndGlyphs">(&#956;M)</text>
<text transform="translate(28.71,531.20) rotate(-90)" font-size="9.0" class="c" textLength="36.80" lengthAdjust="spacingAndGlyphs">Cell viability</text>
<text transform="translate(28.71,461.10) rotate(-90)" font-size="9.0" class="c" text-anchor="end" textLength="31.83" lengthAdjust="spacingAndGlyphs">(% control)</text>
<text x="61.10" y="453.91" font-size="7.0" class="t3" textLength="93.90" lengthAdjust="spacingAndGlyphs">Patient-derived malignant cells</text>
<line x1="67.40" y1="501.17" x2="67.40" y2="481.26" stroke="#f19aa0" stroke-width="0.8"/>
<line x1="66.10" y1="481.26" x2="68.70" y2="481.26" stroke="#f19aa0" stroke-width="0.8"/>
<line x1="66.10" y1="501.17" x2="68.70" y2="501.17" stroke="#f19aa0" stroke-width="0.8"/>
<line x1="80.80" y1="492.64" x2="80.80" y2="487.90" stroke="#f19aa0" stroke-width="0.8"/>
<line x1="79.50" y1="487.90" x2="82.10" y2="487.90" stroke="#f19aa0" stroke-width="0.8"/>
<line x1="79.50" y1="492.64" x2="82.10" y2="492.64" stroke="#f19aa0" stroke-width="0.8"/>
<line x1="94.20" y1="491.69" x2="94.20" y2="485.05" stroke="#f19aa0" stroke-width="0.8"/>
<line x1="92.90" y1="485.05" x2="95.50" y2="485.05" stroke="#f19aa0" stroke-width="0.8"/>
<line x1="92.90" y1="491.69" x2="95.50" y2="491.69" stroke="#f19aa0" stroke-width="0.8"/>
<line x1="107.60" y1="501.64" x2="107.60" y2="494.06" stroke="#f19aa0" stroke-width="0.8"/>
<line x1="106.30" y1="494.06" x2="108.90" y2="494.06" stroke="#f19aa0" stroke-width="0.8"/>
<line x1="106.30" y1="501.64" x2="108.90" y2="501.64" stroke="#f19aa0" stroke-width="0.8"/>
<line x1="134.40" y1="502.83" x2="134.40" y2="500.93" stroke="#f19aa0" stroke-width="0.8"/>
<line x1="133.10" y1="500.93" x2="135.70" y2="500.93" stroke="#f19aa0" stroke-width="0.8"/>
<line x1="133.10" y1="502.83" x2="135.70" y2="502.83" stroke="#f19aa0" stroke-width="0.8"/>
<line x1="161.20" y1="504.49" x2="161.20" y2="502.59" stroke="#f19aa0" stroke-width="0.8"/>
<line x1="159.90" y1="502.59" x2="162.50" y2="502.59" stroke="#f19aa0" stroke-width="0.8"/>
<line x1="159.90" y1="504.49" x2="162.50" y2="504.49" stroke="#f19aa0" stroke-width="0.8"/>
<path d="M67.40,491.21 L80.80,490.27 L94.20,488.37 L107.60,497.85 L134.40,501.88 L161.20,503.54" stroke="#f19aa0" stroke-width="0.8" fill="none"/>
<circle cx="67.40" cy="491.21" r="1.3" fill="#f19aa0"/>
<circle cx="80.80" cy="490.27" r="1.3" fill="#f19aa0"/>
<circle cx="94.20" cy="488.37" r="1.3" fill="#f19aa0"/>
<circle cx="107.60" cy="497.85" r="1.3" fill="#f19aa0"/>
<circle cx="134.40" cy="501.88" r="1.3" fill="#f19aa0"/>
<circle cx="161.20" cy="503.54" r="1.3" fill="#f19aa0"/>
<line x1="67.40" y1="490.27" x2="67.40" y2="467.51" stroke="#f7b06a" stroke-width="0.8"/>
<line x1="66.10" y1="467.51" x2="68.70" y2="467.51" stroke="#f7b06a" stroke-width="0.8"/>
<line x1="66.10" y1="490.27" x2="68.70" y2="490.27" stroke="#f7b06a" stroke-width="0.8"/>
<line x1="80.80" y1="482.21" x2="80.80" y2="477.47" stroke="#f7b06a" stroke-width="0.8"/>
<line x1="79.50" y1="477.47" x2="82.10" y2="477.47" stroke="#f7b06a" stroke-width="0.8"/>
<line x1="79.50" y1="482.21" x2="82.10" y2="482.21" stroke="#f7b06a" stroke-width="0.8"/>
<line x1="94.20" y1="486.00" x2="94.20" y2="481.26" stroke="#f7b06a" stroke-width="0.8"/>
<line x1="92.90" y1="481.26" x2="95.50" y2="481.26" stroke="#f7b06a" stroke-width="0.8"/>
<line x1="92.90" y1="486.00" x2="95.50" y2="486.00" stroke="#f7b06a" stroke-width="0.8"/>
<line x1="107.60" y1="493.58" x2="107.60" y2="478.42" stroke="#f7b06a" stroke-width="0.8"/>
<line x1="106.30" y1="478.42" x2="108.90" y2="478.42" stroke="#f7b06a" stroke-width="0.8"/>
<line x1="106.30" y1="493.58" x2="108.90" y2="493.58" stroke="#f7b06a" stroke-width="0.8"/>
<line x1="134.40" y1="496.90" x2="134.40" y2="494.06" stroke="#f7b06a" stroke-width="0.8"/>
<line x1="133.10" y1="494.06" x2="135.70" y2="494.06" stroke="#f7b06a" stroke-width="0.8"/>
<line x1="133.10" y1="496.90" x2="135.70" y2="496.90" stroke="#f7b06a" stroke-width="0.8"/>
<line x1="161.20" y1="502.12" x2="161.20" y2="498.32" stroke="#f7b06a" stroke-width="0.8"/>
<line x1="159.90" y1="498.32" x2="162.50" y2="498.32" stroke="#f7b06a" stroke-width="0.8"/>
<line x1="159.90" y1="502.12" x2="162.50" y2="502.12" stroke="#f7b06a" stroke-width="0.8"/>
<path d="M67.40,478.89 L80.80,479.84 L94.20,483.63 L107.60,486.00 L134.40,495.48 L161.20,500.22" stroke="#f7b06a" stroke-width="0.9" fill="none"/>
<circle cx="67.40" cy="478.89" r="1.3" fill="#f7b06a"/>
<circle cx="80.80" cy="479.84" r="1.3" fill="#f7b06a"/>
<circle cx="94.20" cy="483.63" r="1.3" fill="#f7b06a"/>
<circle cx="107.60" cy="486.00" r="1.3" fill="#f7b06a"/>
<circle cx="134.40" cy="495.48" r="1.3" fill="#f7b06a"/>
<circle cx="161.20" cy="500.22" r="1.3" fill="#f7b06a"/>
<line x1="67.40" y1="482.68" x2="67.40" y2="477.94" stroke="#f4c20d" stroke-width="0.8"/>
<line x1="66.10" y1="477.94" x2="68.70" y2="477.94" stroke="#f4c20d" stroke-width="0.8"/>
<line x1="66.10" y1="482.68" x2="68.70" y2="482.68" stroke="#f4c20d" stroke-width="0.8"/>
<line x1="80.80" y1="480.79" x2="80.80" y2="476.99" stroke="#f4c20d" stroke-width="0.8"/>
<line x1="79.50" y1="476.99" x2="82.10" y2="476.99" stroke="#f4c20d" stroke-width="0.8"/>
<line x1="79.50" y1="480.79" x2="82.10" y2="480.79" stroke="#f4c20d" stroke-width="0.8"/>
<line x1="94.20" y1="483.63" x2="94.20" y2="478.89" stroke="#f4c20d" stroke-width="0.8"/>
<line x1="92.90" y1="478.89" x2="95.50" y2="478.89" stroke="#f4c20d" stroke-width="0.8"/>
<line x1="92.90" y1="483.63" x2="95.50" y2="483.63" stroke="#f4c20d" stroke-width="0.8"/>
<line x1="107.60" y1="487.90" x2="107.60" y2="482.21" stroke="#f4c20d" stroke-width="0.8"/>
<line x1="106.30" y1="482.21" x2="108.90" y2="482.21" stroke="#f4c20d" stroke-width="0.8"/>
<line x1="106.30" y1="487.90" x2="108.90" y2="487.90" stroke="#f4c20d" stroke-width="0.8"/>
<line x1="134.40" y1="497.85" x2="134.40" y2="495.01" stroke="#f4c20d" stroke-width="0.8"/>
<line x1="133.10" y1="495.01" x2="135.70" y2="495.01" stroke="#f4c20d" stroke-width="0.8"/>
<line x1="133.10" y1="497.85" x2="135.70" y2="497.85" stroke="#f4c20d" stroke-width="0.8"/>
<line x1="161.20" y1="502.12" x2="161.20" y2="498.32" stroke="#f4c20d" stroke-width="0.8"/>
<line x1="159.90" y1="498.32" x2="162.50" y2="498.32" stroke="#f4c20d" stroke-width="0.8"/>
<line x1="159.90" y1="502.12" x2="162.50" y2="502.12" stroke="#f4c20d" stroke-width="0.8"/>
<path d="M67.40,480.31 L80.80,478.89 L94.20,481.26 L107.60,485.05 L134.40,496.43 L161.20,500.22" stroke="#f4c20d" stroke-width="0.9" fill="none"/>
<circle cx="67.40" cy="480.31" r="1.3" fill="#f4c20d"/>
<circle cx="80.80" cy="478.89" r="1.3" fill="#f4c20d"/>
<circle cx="94.20" cy="481.26" r="1.3" fill="#f4c20d"/>
<circle cx="107.60" cy="485.05" r="1.3" fill="#f4c20d"/>
<circle cx="134.40" cy="496.43" r="1.3" fill="#f4c20d"/>
<circle cx="161.20" cy="500.22" r="1.3" fill="#f4c20d"/>
<line x1="67.40" y1="478.89" x2="67.40" y2="471.31" stroke="#c0141c" stroke-width="0.8"/>
<line x1="66.10" y1="471.31" x2="68.70" y2="471.31" stroke="#c0141c" stroke-width="0.8"/>
<line x1="66.10" y1="478.89" x2="68.70" y2="478.89" stroke="#c0141c" stroke-width="0.8"/>
<line x1="80.80" y1="484.10" x2="80.80" y2="478.42" stroke="#c0141c" stroke-width="0.8"/>
<line x1="79.50" y1="478.42" x2="82.10" y2="478.42" stroke="#c0141c" stroke-width="0.8"/>
<line x1="79.50" y1="484.10" x2="82.10" y2="484.10" stroke="#c0141c" stroke-width="0.8"/>
<line x1="94.20" y1="483.16" x2="94.20" y2="477.47" stroke="#c0141c" stroke-width="0.8"/>
<line x1="92.90" y1="477.47" x2="95.50" y2="477.47" stroke="#c0141c" stroke-width="0.8"/>
<line x1="92.90" y1="483.16" x2="95.50" y2="483.16" stroke="#c0141c" stroke-width="0.8"/>
<line x1="107.60" y1="486.71" x2="107.60" y2="480.07" stroke="#c0141c" stroke-width="0.8"/>
<line x1="106.30" y1="480.07" x2="108.90" y2="480.07" stroke="#c0141c" stroke-width="0.8"/>
<line x1="106.30" y1="486.71" x2="108.90" y2="486.71" stroke="#c0141c" stroke-width="0.8"/>
<line x1="134.40" y1="495.01" x2="134.40" y2="491.21" stroke="#c0141c" stroke-width="0.8"/>
<line x1="133.10" y1="491.21" x2="135.70" y2="491.21" stroke="#c0141c" stroke-width="0.8"/>
<line x1="133.10" y1="495.01" x2="135.70" y2="495.01" stroke="#c0141c" stroke-width="0.8"/>
<line x1="161.20" y1="504.49" x2="161.20" y2="494.06" stroke="#c0141c" stroke-width="0.8"/>
<line x1="159.90" y1="494.06" x2="162.50" y2="494.06" stroke="#c0141c" stroke-width="0.8"/>
<line x1="159.90" y1="504.49" x2="162.50" y2="504.49" stroke="#c0141c" stroke-width="0.8"/>
<path d="M67.40,475.10 L80.80,481.26 L94.20,480.31 L107.60,483.39 L134.40,493.11 L161.20,499.27" stroke="#c0141c" stroke-width="1.0" fill="none"/>
<rect x="66.10" y="473.80" width="2.60" height="2.60" fill="#c0141c"/>
<rect x="79.50" y="479.96" width="2.60" height="2.60" fill="#c0141c"/>
<rect x="92.90" y="479.01" width="2.60" height="2.60" fill="#c0141c"/>
<rect x="106.30" y="482.09" width="2.60" height="2.60" fill="#c0141c"/>
<rect x="133.10" y="491.81" width="2.60" height="2.60" fill="#c0141c"/>
<rect x="159.90" y="497.97" width="2.60" height="2.60" fill="#c0141c"/>
<line x1="67.40" y1="482.92" x2="67.40" y2="480.07" stroke="#2b1d16" stroke-width="0.8"/>
<line x1="66.10" y1="480.07" x2="68.70" y2="480.07" stroke="#2b1d16" stroke-width="0.8"/>
<line x1="66.10" y1="482.92" x2="68.70" y2="482.92" stroke="#2b1d16" stroke-width="0.8"/>
<line x1="80.80" y1="501.64" x2="80.80" y2="499.75" stroke="#2b1d16" stroke-width="0.8"/>
<line x1="79.50" y1="499.75" x2="82.10" y2="499.75" stroke="#2b1d16" stroke-width="0.8"/>
<line x1="79.50" y1="501.64" x2="82.10" y2="501.64" stroke="#2b1d16" stroke-width="0.8"/>
<line x1="107.60" y1="512.54" x2="107.60" y2="509.70" stroke="#2b1d16" stroke-width="0.8"/>
<line x1="106.30" y1="509.70" x2="108.90" y2="509.70" stroke="#2b1d16" stroke-width="0.8"/>
<line x1="106.30" y1="512.54" x2="108.90" y2="512.54" stroke="#2b1d16" stroke-width="0.8"/>
<path d="M67.40,481.50 L80.80,500.69 L94.20,508.51 L107.60,511.12 L134.40,512.07 L161.20,512.07" stroke="#2b1d16" stroke-width="0.9" fill="none"/>
<circle cx="67.40" cy="481.50" r="1.3" fill="#2b1d16"/>
<circle cx="80.80" cy="500.69" r="1.3" fill="#2b1d16"/>
<circle cx="94.20" cy="508.51" r="1.3" fill="#2b1d16"/>
<circle cx="107.60" cy="511.12" r="1.3" fill="#2b1d16"/>
<circle cx="134.40" cy="512.07" r="1.3" fill="#2b1d16"/>
<circle cx="161.20" cy="512.07" r="1.3" fill="#2b1d16"/>
<line x1="77.40" y1="570.50" x2="84.10" y2="570.50" stroke="#2b1d16" stroke-width="0.9"/>
<circle cx="80.75" cy="570.5" r="1.3" fill="#2b1d16"/>
<text x="87.80" y="572.91" font-size="7.0" class="t" textLength="13.80" lengthAdjust="spacingAndGlyphs">Pt. 1</text>
<line x1="77.40" y1="580.20" x2="84.10" y2="580.20" stroke="#c0141c" stroke-width="0.9"/>
<circle cx="80.75" cy="580.2" r="1.3" fill="#c0141c"/>
<text x="87.80" y="582.61" font-size="7.0" class="t" textLength="13.80" lengthAdjust="spacingAndGlyphs">Pt. 2</text>
<line x1="77.40" y1="589.90" x2="84.10" y2="589.90" stroke="#f19aa0" stroke-width="0.9"/>
<circle cx="80.75" cy="589.9" r="1.3" fill="#f19aa0"/>
<text x="87.80" y="592.31" font-size="7.0" class="t" textLength="13.80" lengthAdjust="spacingAndGlyphs">Pt. 3</text>
<line x1="110.40" y1="570.50" x2="116.40" y2="570.50" stroke="#f7b06a" stroke-width="0.9"/>
<circle cx="113.40" cy="570.5" r="1.3" fill="#f7b06a"/>
<text x="120.00" y="572.91" font-size="7.0" class="t" textLength="13.80" lengthAdjust="spacingAndGlyphs">Pt. 4</text>
<line x1="110.40" y1="580.20" x2="116.40" y2="580.20" stroke="#f4c20d" stroke-width="0.9"/>
<circle cx="113.40" cy="580.2" r="1.3" fill="#f4c20d"/>
<text x="120.00" y="582.61" font-size="7.0" class="t" textLength="13.80" lengthAdjust="spacingAndGlyphs">Pt. 5</text>
<line x1="216.30" y1="459.20" x2="216.30" y2="534.17" stroke="#231f20" stroke-width="1.35"/>
<line x1="213.10" y1="462.34" x2="216.30" y2="462.34" stroke="#231f20" stroke-width="1.35"/>
<text x="208.60" y="465.29" font-size="7.4" class="tk" text-anchor="end">200</text>
<line x1="213.10" y1="480.13" x2="216.30" y2="480.13" stroke="#231f20" stroke-width="1.35"/>
<text x="208.60" y="483.08" font-size="7.4" class="tk" text-anchor="end">150</text>
<line x1="213.10" y1="497.92" x2="216.30" y2="497.92" stroke="#231f20" stroke-width="1.35"/>
<text x="208.60" y="500.87" font-size="7.4" class="tk" text-anchor="end">100</text>
<line x1="213.10" y1="515.71" x2="216.30" y2="515.71" stroke="#231f20" stroke-width="1.35"/>
<text x="208.60" y="518.66" font-size="7.4" class="tk" text-anchor="end">50</text>
<line x1="213.10" y1="533.50" x2="216.30" y2="533.50" stroke="#231f20" stroke-width="1.35"/>
<text x="208.60" y="536.45" font-size="7.4" class="tk" text-anchor="end">0</text>
<line x1="216.30" y1="533.50" x2="326.20" y2="533.50" stroke="#231f20" stroke-width="1.35"/>
<line x1="216.20" y1="533.50" x2="216.20" y2="536.30" stroke="#231f20" stroke-width="1.35"/>
<line x1="242.90" y1="533.50" x2="242.90" y2="536.30" stroke="#231f20" stroke-width="1.35"/>
<line x1="269.60" y1="533.50" x2="269.60" y2="536.30" stroke="#231f20" stroke-width="1.35"/>
<line x1="296.30" y1="533.50" x2="296.30" y2="536.30" stroke="#231f20" stroke-width="1.35"/>
<line x1="323.00" y1="533.50" x2="323.00" y2="536.30" stroke="#231f20" stroke-width="1.35"/>
<text x="216.20" y="547.20" font-size="6.8" class="tk" text-anchor="middle">0</text>
<text x="242.90" y="547.20" font-size="6.8" class="tk" text-anchor="middle">5</text>
<text x="269.60" y="547.20" font-size="6.8" class="tk" text-anchor="middle">10</text>
<text x="296.30" y="547.20" font-size="6.8" class="tk" text-anchor="middle">15</text>
<text x="323.00" y="547.20" font-size="6.8" class="tk" text-anchor="middle">20</text>
<text x="247.30" y="559.50" font-size="9.0" class="c" textLength="28.80" lengthAdjust="spacingAndGlyphs">LY500307</text>
<text x="279.08" y="559.50" font-size="9.0" class="c" textLength="16.22" lengthAdjust="spacingAndGlyphs">(&#956;M)</text>
<text transform="translate(191.01,532.00) rotate(-90)" font-size="9.0" class="c" textLength="36.85" lengthAdjust="spacingAndGlyphs">Cell viability</text>
<text transform="translate(191.01,461.80) rotate(-90)" font-size="9.0" class="c" text-anchor="end" textLength="31.87" lengthAdjust="spacingAndGlyphs">(% control)</text>
<text x="217.50" y="453.51" font-size="7.0" class="t3" textLength="107.10" lengthAdjust="spacingAndGlyphs">Patient-derived healthy CD4+ cells</text>
<line x1="229.55" y1="501.48" x2="229.55" y2="497.21" stroke="#c9d3de" stroke-width="0.8"/>
<line x1="228.25" y1="497.21" x2="230.85" y2="497.21" stroke="#c9d3de" stroke-width="0.8"/>
<line x1="228.25" y1="501.48" x2="230.85" y2="501.48" stroke="#c9d3de" stroke-width="0.8"/>
<line x1="323.00" y1="494.36" x2="323.00" y2="491.52" stroke="#c9d3de" stroke-width="0.8"/>
<line x1="321.70" y1="491.52" x2="324.30" y2="491.52" stroke="#c9d3de" stroke-width="0.8"/>
<line x1="321.70" y1="494.36" x2="324.30" y2="494.36" stroke="#c9d3de" stroke-width="0.8"/>
<path d="M216.20,497.92 L221.54,496.50 L229.55,499.34 L242.90,492.23 L256.25,494.36 L269.60,490.09 L296.30,492.94 L323.00,492.94" stroke="#c9d3de" stroke-width="0.9" fill="none"/>
<circle cx="216.20" cy="497.92" r="1.35" fill="#c9d3de"/>
<circle cx="221.54" cy="496.50" r="1.35" fill="#c9d3de"/>
<circle cx="229.55" cy="499.34" r="1.35" fill="#c9d3de"/>
<circle cx="242.90" cy="492.23" r="1.35" fill="#c9d3de"/>
<circle cx="256.25" cy="494.36" r="1.35" fill="#c9d3de"/>
<circle cx="269.60" cy="490.09" r="1.35" fill="#c9d3de"/>
<circle cx="296.30" cy="492.94" r="1.35" fill="#c9d3de"/>
<circle cx="323.00" cy="492.94" r="1.35" fill="#c9d3de"/>
<line x1="221.54" y1="486.32" x2="221.54" y2="483.47" stroke="#41aedb" stroke-width="0.8"/>
<line x1="220.24" y1="483.47" x2="222.84" y2="483.47" stroke="#41aedb" stroke-width="0.8"/>
<line x1="220.24" y1="486.32" x2="222.84" y2="486.32" stroke="#41aedb" stroke-width="0.8"/>
<line x1="229.55" y1="489.03" x2="229.55" y2="482.62" stroke="#41aedb" stroke-width="0.8"/>
<line x1="228.25" y1="482.62" x2="230.85" y2="482.62" stroke="#41aedb" stroke-width="0.8"/>
<line x1="228.25" y1="489.03" x2="230.85" y2="489.03" stroke="#41aedb" stroke-width="0.8"/>
<line x1="242.90" y1="482.26" x2="242.90" y2="480.84" stroke="#41aedb" stroke-width="0.8"/>
<line x1="241.60" y1="480.84" x2="244.20" y2="480.84" stroke="#41aedb" stroke-width="0.8"/>
<line x1="241.60" y1="482.26" x2="244.20" y2="482.26" stroke="#41aedb" stroke-width="0.8"/>
<line x1="256.25" y1="484.58" x2="256.25" y2="482.44" stroke="#41aedb" stroke-width="0.8"/>
<line x1="254.95" y1="482.44" x2="257.55" y2="482.44" stroke="#41aedb" stroke-width="0.8"/>
<line x1="254.95" y1="484.58" x2="257.55" y2="484.58" stroke="#41aedb" stroke-width="0.8"/>
<line x1="269.60" y1="485.64" x2="269.60" y2="483.51" stroke="#41aedb" stroke-width="0.8"/>
<line x1="268.30" y1="483.51" x2="270.90" y2="483.51" stroke="#41aedb" stroke-width="0.8"/>
<line x1="268.30" y1="485.64" x2="270.90" y2="485.64" stroke="#41aedb" stroke-width="0.8"/>
<line x1="296.30" y1="498.03" x2="296.30" y2="495.18" stroke="#41aedb" stroke-width="0.8"/>
<line x1="295.00" y1="495.18" x2="297.60" y2="495.18" stroke="#41aedb" stroke-width="0.8"/>
<line x1="295.00" y1="498.03" x2="297.60" y2="498.03" stroke="#41aedb" stroke-width="0.8"/>
<line x1="323.00" y1="502.55" x2="323.00" y2="499.70" stroke="#41aedb" stroke-width="0.8"/>
<line x1="321.70" y1="499.70" x2="324.30" y2="499.70" stroke="#41aedb" stroke-width="0.8"/>
<line x1="321.70" y1="502.55" x2="324.30" y2="502.55" stroke="#41aedb" stroke-width="0.8"/>
<path d="M216.20,497.92 L221.54,484.90 L229.55,485.82 L242.90,481.55 L256.25,483.51 L269.60,484.58 L296.30,496.60 L323.00,501.12" stroke="#41aedb" stroke-width="0.9" fill="none"/>
<rect x="214.85" y="496.57" width="2.70" height="2.70" fill="#41aedb"/>
<rect x="220.19" y="483.55" width="2.70" height="2.70" fill="#41aedb"/>
<rect x="228.20" y="484.47" width="2.70" height="2.70" fill="#41aedb"/>
<rect x="241.55" y="480.20" width="2.70" height="2.70" fill="#41aedb"/>
<rect x="254.90" y="482.16" width="2.70" height="2.70" fill="#41aedb"/>
<rect x="268.25" y="483.23" width="2.70" height="2.70" fill="#41aedb"/>
<rect x="294.95" y="495.25" width="2.70" height="2.70" fill="#41aedb"/>
<rect x="321.65" y="499.77" width="2.70" height="2.70" fill="#41aedb"/>
<line x1="229.55" y1="496.85" x2="229.55" y2="492.58" stroke="#2a5b86" stroke-width="0.8"/>
<line x1="228.25" y1="492.58" x2="230.85" y2="492.58" stroke="#2a5b86" stroke-width="0.8"/>
<line x1="228.25" y1="496.85" x2="230.85" y2="496.85" stroke="#2a5b86" stroke-width="0.8"/>
<line x1="269.60" y1="495.96" x2="269.60" y2="491.69" stroke="#2a5b86" stroke-width="0.8"/>
<line x1="268.30" y1="491.69" x2="270.90" y2="491.69" stroke="#2a5b86" stroke-width="0.8"/>
<line x1="268.30" y1="495.96" x2="270.90" y2="495.96" stroke="#2a5b86" stroke-width="0.8"/>
<path d="M216.20,497.92 L221.54,493.83 L229.55,494.72 L242.90,491.16 L256.25,493.12 L269.60,493.83 L296.30,496.14 L323.00,485.47" stroke="#2a5b86" stroke-width="0.9" fill="none"/>
<circle cx="216.20" cy="497.92" r="1.35" fill="#2a5b86"/>
<circle cx="221.54" cy="493.83" r="1.35" fill="#2a5b86"/>
<circle cx="229.55" cy="494.72" r="1.35" fill="#2a5b86"/>
<circle cx="242.90" cy="491.16" r="1.35" fill="#2a5b86"/>
<circle cx="256.25" cy="493.12" r="1.35" fill="#2a5b86"/>
<circle cx="269.60" cy="493.83" r="1.35" fill="#2a5b86"/>
<circle cx="296.30" cy="496.14" r="1.35" fill="#2a5b86"/>
<circle cx="323.00" cy="485.47" r="1.35" fill="#2a5b86"/>
<line x1="256.25" y1="504.15" x2="256.25" y2="502.01" stroke="#17375e" stroke-width="0.8"/>
<line x1="254.95" y1="502.01" x2="257.55" y2="502.01" stroke="#17375e" stroke-width="0.8"/>
<line x1="254.95" y1="504.15" x2="257.55" y2="504.15" stroke="#17375e" stroke-width="0.8"/>
<path d="M216.20,497.92 L221.54,496.67 L229.55,494.90 L242.90,495.79 L256.25,503.08 L269.60,496.85 L296.30,516.88 L323.00,514.29" stroke="#17375e" stroke-width="0.9" fill="none"/>
<circle cx="216.20" cy="497.92" r="1.35" fill="#17375e"/>
<circle cx="221.54" cy="496.67" r="1.35" fill="#17375e"/>
<circle cx="229.55" cy="494.90" r="1.35" fill="#17375e"/>
<circle cx="242.90" cy="495.79" r="1.35" fill="#17375e"/>
<circle cx="256.25" cy="503.08" r="1.35" fill="#17375e"/>
<circle cx="269.60" cy="496.85" r="1.35" fill="#17375e"/>
<circle cx="296.30" cy="516.88" r="1.35" fill="#17375e"/>
<circle cx="323.00" cy="514.29" r="1.35" fill="#17375e"/>
<line x1="239.20" y1="570.50" x2="246.60" y2="570.50" stroke="#17375e" stroke-width="0.9"/>
<circle cx="242.90" cy="570.5" r="1.3" fill="#17375e"/>
<text x="250.00" y="572.91" font-size="7.0" class="t" textLength="18.20" lengthAdjust="spacingAndGlyphs">Ctrl. 1</text>
<line x1="239.20" y1="580.00" x2="246.60" y2="580.00" stroke="#41aedb" stroke-width="0.9"/>
<circle cx="242.90" cy="580.0" r="1.3" fill="#41aedb"/>
<text x="250.00" y="582.41" font-size="7.0" class="t" textLength="18.20" lengthAdjust="spacingAndGlyphs">Ctrl. 2</text>
<line x1="273.80" y1="570.50" x2="281.50" y2="570.50" stroke="#c9d3de" stroke-width="0.9"/>
<circle cx="277.65" cy="570.5" r="1.3" fill="#c9d3de"/>
<text x="284.60" y="572.91" font-size="7.0" class="t" textLength="18.90" lengthAdjust="spacingAndGlyphs">Ctrl. 3</text>
<line x1="273.80" y1="580.00" x2="281.50" y2="580.00" stroke="#2a5b86" stroke-width="0.9"/>
<circle cx="277.65" cy="580.0" r="1.3" fill="#2a5b86"/>
<text x="284.60" y="582.41" font-size="7.0" class="t" textLength="18.90" lengthAdjust="spacingAndGlyphs">Ctrl. 4</text>
<line x1="377.70" y1="461.60" x2="377.70" y2="536.88" stroke="#231f20" stroke-width="1.35"/>
<line x1="374.50" y1="464.80" x2="377.70" y2="464.80" stroke="#231f20" stroke-width="1.35"/>
<text x="371.40" y="467.75" font-size="7.4" class="tk" text-anchor="end">150</text>
<line x1="374.50" y1="488.60" x2="377.70" y2="488.60" stroke="#231f20" stroke-width="1.35"/>
<text x="371.40" y="491.55" font-size="7.4" class="tk" text-anchor="end">100</text>
<line x1="374.50" y1="512.40" x2="377.70" y2="512.40" stroke="#231f20" stroke-width="1.35"/>
<text x="371.40" y="515.35" font-size="7.4" class="tk" text-anchor="end">50</text>
<line x1="374.50" y1="536.20" x2="377.70" y2="536.20" stroke="#231f20" stroke-width="1.35"/>
<text x="371.40" y="539.15" font-size="7.4" class="tk" text-anchor="end">0</text>
<line x1="377.70" y1="536.20" x2="488.50" y2="536.20" stroke="#231f20" stroke-width="1.35"/>
<line x1="377.70" y1="536.20" x2="377.70" y2="539.00" stroke="#231f20" stroke-width="1.35"/>
<line x1="404.57" y1="536.20" x2="404.57" y2="539.00" stroke="#231f20" stroke-width="1.35"/>
<line x1="431.45" y1="536.20" x2="431.45" y2="539.00" stroke="#231f20" stroke-width="1.35"/>
<line x1="458.32" y1="536.20" x2="458.32" y2="539.00" stroke="#231f20" stroke-width="1.35"/>
<line x1="485.20" y1="536.20" x2="485.20" y2="539.00" stroke="#231f20" stroke-width="1.35"/>
<text x="377.70" y="549.40" font-size="6.8" class="tk" text-anchor="middle">0</text>
<text x="404.57" y="549.40" font-size="6.8" class="tk" text-anchor="middle">5</text>
<text x="431.45" y="549.40" font-size="6.8" class="tk" text-anchor="middle">10</text>
<text x="458.32" y="549.40" font-size="6.8" class="tk" text-anchor="middle">15</text>
<text x="485.20" y="549.40" font-size="6.8" class="tk" text-anchor="middle">20</text>
<text x="409.20" y="560.20" font-size="9.0" class="c" textLength="28.38" lengthAdjust="spacingAndGlyphs">LY500307</text>
<text x="440.51" y="560.20" font-size="9.0" class="c" textLength="15.99" lengthAdjust="spacingAndGlyphs">(&#956;M)</text>
<text transform="translate(353.01,534.00) rotate(-90)" font-size="9.0" class="c" textLength="36.91" lengthAdjust="spacingAndGlyphs">Cell viability</text>
<text transform="translate(353.01,463.70) rotate(-90)" font-size="9.0" class="c" text-anchor="end" textLength="31.92" lengthAdjust="spacingAndGlyphs">(% control)</text>
<text x="372.90" y="454.01" font-size="7.0" class="t3" textLength="117.70" lengthAdjust="spacingAndGlyphs">Malignant cells vs. healthy CD4+ cells</text>
<line x1="391.14" y1="483.60" x2="391.14" y2="474.08" stroke="#ea8d8a" stroke-width="0.8"/>
<line x1="389.84" y1="474.08" x2="392.44" y2="474.08" stroke="#ea8d8a" stroke-width="0.8"/>
<line x1="404.57" y1="489.31" x2="404.57" y2="481.22" stroke="#ea8d8a" stroke-width="0.8"/>
<line x1="403.27" y1="481.22" x2="405.88" y2="481.22" stroke="#ea8d8a" stroke-width="0.8"/>
<line x1="418.01" y1="490.98" x2="418.01" y2="483.36" stroke="#ea8d8a" stroke-width="0.8"/>
<line x1="416.71" y1="483.36" x2="419.31" y2="483.36" stroke="#ea8d8a" stroke-width="0.8"/>
<line x1="431.45" y1="494.79" x2="431.45" y2="485.74" stroke="#ea8d8a" stroke-width="0.8"/>
<line x1="430.15" y1="485.74" x2="432.75" y2="485.74" stroke="#ea8d8a" stroke-width="0.8"/>
<line x1="458.32" y1="502.40" x2="458.32" y2="495.74" stroke="#ea8d8a" stroke-width="0.8"/>
<line x1="457.02" y1="495.74" x2="459.62" y2="495.74" stroke="#ea8d8a" stroke-width="0.8"/>
<line x1="485.20" y1="505.74" x2="485.20" y2="499.55" stroke="#ea8d8a" stroke-width="0.8"/>
<line x1="483.90" y1="499.55" x2="486.50" y2="499.55" stroke="#ea8d8a" stroke-width="0.8"/>
<path d="M391.14,483.60 L404.57,489.31 L418.01,490.98 L431.45,494.79 L458.32,502.40 L485.20,505.74" stroke="#ea8d8a" stroke-width="0.9" fill="none"/>
<circle cx="391.14" cy="483.60" r="1.2" fill="#ea8d8a"/>
<circle cx="404.57" cy="489.31" r="1.2" fill="#ea8d8a"/>
<circle cx="418.01" cy="490.98" r="1.2" fill="#ea8d8a"/>
<circle cx="431.45" cy="494.79" r="1.2" fill="#ea8d8a"/>
<circle cx="458.32" cy="502.40" r="1.2" fill="#ea8d8a"/>
<circle cx="485.20" cy="505.74" r="1.2" fill="#ea8d8a"/>
<line x1="391.14" y1="481.46" x2="391.14" y2="473.37" stroke="#1d4f8a" stroke-width="0.8"/>
<line x1="389.84" y1="473.37" x2="392.44" y2="473.37" stroke="#1d4f8a" stroke-width="0.8"/>
<line x1="404.57" y1="477.46" x2="404.57" y2="469.56" stroke="#1d4f8a" stroke-width="0.8"/>
<line x1="403.27" y1="469.56" x2="405.88" y2="469.56" stroke="#1d4f8a" stroke-width="0.8"/>
<line x1="418.01" y1="481.46" x2="418.01" y2="471.46" stroke="#1d4f8a" stroke-width="0.8"/>
<line x1="416.71" y1="471.46" x2="419.31" y2="471.46" stroke="#1d4f8a" stroke-width="0.8"/>
<line x1="431.45" y1="479.27" x2="431.45" y2="472.89" stroke="#1d4f8a" stroke-width="0.8"/>
<line x1="430.15" y1="472.89" x2="432.75" y2="472.89" stroke="#1d4f8a" stroke-width="0.8"/>
<line x1="458.32" y1="491.27" x2="458.32" y2="479.56" stroke="#1d4f8a" stroke-width="0.8"/>
<line x1="457.02" y1="479.56" x2="459.62" y2="479.56" stroke="#1d4f8a" stroke-width="0.8"/>
<line x1="485.20" y1="487.93" x2="485.20" y2="473.84" stroke="#1d4f8a" stroke-width="0.8"/>
<line x1="483.90" y1="473.84" x2="486.50" y2="473.84" stroke="#1d4f8a" stroke-width="0.8"/>
<path d="M391.14,481.46 L404.57,477.46 L418.01,481.46 L431.45,479.27 L458.32,491.27 L485.20,487.93" stroke="#1d4f8a" stroke-width="0.9" fill="none" stroke-dasharray="1.2,1"/>
<rect x="389.74" y="480.06" width="2.80" height="2.80" fill="#1d4f8a"/>
<rect x="403.18" y="476.06" width="2.80" height="2.80" fill="#1d4f8a"/>
<rect x="416.61" y="480.06" width="2.80" height="2.80" fill="#1d4f8a"/>
<rect x="430.05" y="477.87" width="2.80" height="2.80" fill="#1d4f8a"/>
<rect x="456.93" y="489.87" width="2.80" height="2.80" fill="#1d4f8a"/>
<rect x="483.80" y="486.53" width="2.80" height="2.80" fill="#1d4f8a"/>
<text x="431.45" y="471.00" font-size="6.0" text-anchor="middle">**</text>
<text x="458.32" y="478.00" font-size="6.0" text-anchor="middle">*</text>
<text x="485.20" y="472.20" font-size="6.0" text-anchor="middle">***</text>
<line x1="398.20" y1="570.10" x2="404.60" y2="570.10" stroke="#ea8d8a" stroke-width="0.9"/>
<circle cx="401.40" cy="570.1" r="1.2" fill="#ea8d8a"/>
<text x="408.80" y="572.58" font-size="7.2" class="t" textLength="21.70" lengthAdjust="spacingAndGlyphs">Patient</text>
<line x1="435.80" y1="570.10" x2="442.00" y2="570.10" stroke="#1d4f8a" stroke-width="0.9"/>
<rect x="437.60" y="568.8" width="2.6" height="2.6" fill="#1d4f8a"/>
<text x="446.20" y="572.58" font-size="7.2" class="t" textLength="22.60" lengthAdjust="spacingAndGlyphs">Control</text>
<rect x="61.00" y="656.70" width="11.00" height="50.90" fill="#134b87"/>
<line x1="84.50" y1="655.50" x2="84.50" y2="652.90" stroke="#3a3a3a" stroke-width="1.0"/>
<line x1="81.60" y1="652.90" x2="87.40" y2="652.90" stroke="#3a3a3a" stroke-width="1.0"/>
<rect x="79.00" y="655.00" width="11.00" height="52.60" fill="#e07b6c"/>
<line x1="102.80" y1="656.10" x2="102.80" y2="651.50" stroke="#3a3a3a" stroke-width="1.0"/>
<line x1="99.90" y1="651.50" x2="105.70" y2="651.50" stroke="#3a3a3a" stroke-width="1.0"/>
<rect x="97.30" y="655.60" width="11.00" height="52.00" fill="#f2c4b7"/>
<line x1="121.20" y1="657.30" x2="121.20" y2="652.00" stroke="#3a3a3a" stroke-width="1.0"/>
<line x1="118.30" y1="652.00" x2="124.10" y2="652.00" stroke="#3a3a3a" stroke-width="1.0"/>
<rect x="115.70" y="656.80" width="11.00" height="50.80" fill="#d1423f"/>
<line x1="139.60" y1="665.90" x2="139.60" y2="664.00" stroke="#3a3a3a" stroke-width="1.0"/>
<line x1="136.70" y1="664.00" x2="142.50" y2="664.00" stroke="#3a3a3a" stroke-width="1.0"/>
<rect x="134.10" y="665.40" width="11.00" height="42.20" fill="#eaa293"/>
<line x1="157.90" y1="667.50" x2="157.90" y2="663.50" stroke="#3a3a3a" stroke-width="1.0"/>
<line x1="155.00" y1="663.50" x2="160.80" y2="663.50" stroke="#3a3a3a" stroke-width="1.0"/>
<rect x="152.40" y="667.00" width="11.00" height="40.60" fill="#d1423f"/>
<line x1="53.65" y1="626.80" x2="53.65" y2="708.27" stroke="#231f20" stroke-width="1.35"/>
<line x1="50.45" y1="629.80" x2="53.65" y2="629.80" stroke="#231f20" stroke-width="1.35"/>
<text x="46.50" y="632.75" font-size="7.4" class="tk" text-anchor="end">150</text>
<line x1="50.45" y1="655.73" x2="53.65" y2="655.73" stroke="#231f20" stroke-width="1.35"/>
<text x="46.50" y="658.68" font-size="7.4" class="tk" text-anchor="end">100</text>
<line x1="50.45" y1="681.67" x2="53.65" y2="681.67" stroke="#231f20" stroke-width="1.35"/>
<text x="46.50" y="684.61" font-size="7.4" class="tk" text-anchor="end">50</text>
<line x1="50.45" y1="707.60" x2="53.65" y2="707.60" stroke="#231f20" stroke-width="1.35"/>
<text x="46.50" y="710.55" font-size="7.4" class="tk" text-anchor="end">0</text>
<line x1="53.65" y1="707.60" x2="170.40" y2="707.60" stroke="#231f20" stroke-width="1.35"/>
<line x1="66.50" y1="707.60" x2="66.50" y2="710.40" stroke="#231f20" stroke-width="1.35"/>
<line x1="84.50" y1="707.60" x2="84.50" y2="710.40" stroke="#231f20" stroke-width="1.35"/>
<line x1="102.80" y1="707.60" x2="102.80" y2="710.40" stroke="#231f20" stroke-width="1.35"/>
<line x1="121.20" y1="707.60" x2="121.20" y2="710.40" stroke="#231f20" stroke-width="1.35"/>
<line x1="139.60" y1="707.60" x2="139.60" y2="710.40" stroke="#231f20" stroke-width="1.35"/>
<line x1="157.90" y1="707.60" x2="157.90" y2="710.40" stroke="#231f20" stroke-width="1.35"/>
<text x="79.90" y="622.11" font-size="7.0" class="t3" textLength="64.60" lengthAdjust="spacingAndGlyphs">HaCaT keratinocytes</text>
<text transform="translate(27.51,702.70) rotate(-90)" font-size="9.0" class="cb" textLength="36.96" lengthAdjust="spacingAndGlyphs">Cell viability</text>
<text transform="translate(27.51,632.30) rotate(-90)" font-size="9.0" class="cb" text-anchor="end" textLength="31.96" lengthAdjust="spacingAndGlyphs">(% control)</text>
<text transform="translate(68.30,719.70) rotate(-45)" font-size="7.4" text-anchor="end" textLength="38.50" lengthAdjust="spacingAndGlyphs">DMSO 0.1%</text>
<text transform="translate(86.30,719.70) rotate(-45)" font-size="7.4" text-anchor="end" textLength="23.60" lengthAdjust="spacingAndGlyphs">LY 1&#956;M</text>
<text transform="translate(104.60,719.70) rotate(-45)" font-size="7.4" text-anchor="end" textLength="29.40" lengthAdjust="spacingAndGlyphs">LY 2.5&#956;M</text>
<text transform="translate(123.00,719.70) rotate(-45)" font-size="7.4" text-anchor="end" textLength="23.60" lengthAdjust="spacingAndGlyphs">LY 5&#956;M</text>
<text transform="translate(141.40,719.70) rotate(-45)" font-size="7.4" text-anchor="end" textLength="29.40" lengthAdjust="spacingAndGlyphs">LY 7.5&#956;M</text>
<text transform="translate(159.70,719.70) rotate(-45)" font-size="7.4" text-anchor="end" textLength="27.60" lengthAdjust="spacingAndGlyphs">LY 10&#956;M</text>
<text x="96.60" y="760.80" font-size="9.6" class="cb" textLength="29.20" lengthAdjust="spacingAndGlyphs">LY500307</text>
<rect x="227.40" y="656.90" width="10.80" height="51.10" fill="#134b87"/>
<line x1="251.20" y1="655.10" x2="251.20" y2="650.50" stroke="#3a3a3a" stroke-width="1.0"/>
<line x1="248.30" y1="650.50" x2="254.10" y2="650.50" stroke="#3a3a3a" stroke-width="1.0"/>
<rect x="245.80" y="654.60" width="10.80" height="53.40" fill="#e07b6c"/>
<line x1="269.60" y1="651.50" x2="269.60" y2="643.40" stroke="#3a3a3a" stroke-width="1.0"/>
<line x1="266.70" y1="643.40" x2="272.50" y2="643.40" stroke="#3a3a3a" stroke-width="1.0"/>
<rect x="264.20" y="651.00" width="10.80" height="57.00" fill="#f2c4b7"/>
<line x1="288.20" y1="655.00" x2="288.20" y2="647.20" stroke="#3a3a3a" stroke-width="1.0"/>
<line x1="285.30" y1="647.20" x2="291.10" y2="647.20" stroke="#3a3a3a" stroke-width="1.0"/>
<rect x="282.80" y="654.50" width="10.80" height="53.50" fill="#d1423f"/>
<line x1="306.50" y1="656.40" x2="306.50" y2="652.00" stroke="#3a3a3a" stroke-width="1.0"/>
<line x1="303.60" y1="652.00" x2="309.40" y2="652.00" stroke="#3a3a3a" stroke-width="1.0"/>
<rect x="301.10" y="655.90" width="10.80" height="52.10" fill="#eaa293"/>
<line x1="324.70" y1="659.00" x2="324.70" y2="647.20" stroke="#3a3a3a" stroke-width="1.0"/>
<line x1="321.80" y1="647.20" x2="327.60" y2="647.20" stroke="#3a3a3a" stroke-width="1.0"/>
<rect x="319.30" y="658.50" width="10.80" height="49.50" fill="#d1423f"/>
<line x1="220.80" y1="626.90" x2="220.80" y2="708.67" stroke="#231f20" stroke-width="1.35"/>
<line x1="217.60" y1="630.00" x2="220.80" y2="630.00" stroke="#231f20" stroke-width="1.35"/>
<text x="213.10" y="632.95" font-size="7.4" class="tk" text-anchor="end">150</text>
<line x1="217.60" y1="656.00" x2="220.80" y2="656.00" stroke="#231f20" stroke-width="1.35"/>
<text x="213.10" y="658.95" font-size="7.4" class="tk" text-anchor="end">100</text>
<line x1="217.60" y1="682.00" x2="220.80" y2="682.00" stroke="#231f20" stroke-width="1.35"/>
<text x="213.10" y="684.95" font-size="7.4" class="tk" text-anchor="end">50</text>
<line x1="217.60" y1="708.00" x2="220.80" y2="708.00" stroke="#231f20" stroke-width="1.35"/>
<text x="213.10" y="710.95" font-size="7.4" class="tk" text-anchor="end">0</text>
<line x1="220.80" y1="708.00" x2="336.50" y2="708.00" stroke="#231f20" stroke-width="1.35"/>
<line x1="232.80" y1="708.00" x2="232.80" y2="710.80" stroke="#231f20" stroke-width="1.35"/>
<line x1="251.20" y1="708.00" x2="251.20" y2="710.80" stroke="#231f20" stroke-width="1.35"/>
<line x1="269.60" y1="708.00" x2="269.60" y2="710.80" stroke="#231f20" stroke-width="1.35"/>
<line x1="288.20" y1="708.00" x2="288.20" y2="710.80" stroke="#231f20" stroke-width="1.35"/>
<line x1="306.50" y1="708.00" x2="306.50" y2="710.80" stroke="#231f20" stroke-width="1.35"/>
<line x1="324.70" y1="708.00" x2="324.70" y2="710.80" stroke="#231f20" stroke-width="1.35"/>
<text x="235.00" y="621.91" font-size="7.0" class="t3" textLength="88.10" lengthAdjust="spacingAndGlyphs">Primary human keratinocytes</text>
<text transform="translate(195.91,703.50) rotate(-90)" font-size="9.0" class="cb" textLength="37.64" lengthAdjust="spacingAndGlyphs">Cell viability</text>
<text transform="translate(195.91,631.80) rotate(-90)" font-size="9.0" class="cb" text-anchor="end" textLength="32.55" lengthAdjust="spacingAndGlyphs">(% control)</text>
<text transform="translate(234.60,720.10) rotate(-45)" font-size="7.4" text-anchor="end" textLength="38.50" lengthAdjust="spacingAndGlyphs">DMSO 0.1%</text>
<text transform="translate(253.00,720.10) rotate(-45)" font-size="7.4" text-anchor="end" textLength="23.60" lengthAdjust="spacingAndGlyphs">LY 1&#956;M</text>
<text transform="translate(271.40,720.10) rotate(-45)" font-size="7.4" text-anchor="end" textLength="29.40" lengthAdjust="spacingAndGlyphs">LY 2.5&#956;M</text>
<text transform="translate(290.00,720.10) rotate(-45)" font-size="7.4" text-anchor="end" textLength="23.60" lengthAdjust="spacingAndGlyphs">LY 5&#956;M</text>
<text transform="translate(308.30,720.10) rotate(-45)" font-size="7.4" text-anchor="end" textLength="29.40" lengthAdjust="spacingAndGlyphs">LY 7.5&#956;M</text>
<text transform="translate(326.50,720.10) rotate(-45)" font-size="7.4" text-anchor="end" textLength="27.60" lengthAdjust="spacingAndGlyphs">LY 10&#956;M</text>
<text x="262.90" y="760.80" font-size="9.6" class="cb" textLength="29.20" lengthAdjust="spacingAndGlyphs">LY500307</text>
<rect x="395.00" y="656.90" width="10.80" height="51.10" fill="#134b87"/>
<line x1="418.60" y1="656.20" x2="418.60" y2="652.30" stroke="#3a3a3a" stroke-width="1.0"/>
<line x1="415.70" y1="652.30" x2="421.50" y2="652.30" stroke="#3a3a3a" stroke-width="1.0"/>
<rect x="413.20" y="655.70" width="10.80" height="52.30" fill="#e07b6c"/>
<line x1="437.50" y1="655.70" x2="437.50" y2="651.30" stroke="#3a3a3a" stroke-width="1.0"/>
<line x1="434.60" y1="651.30" x2="440.40" y2="651.30" stroke="#3a3a3a" stroke-width="1.0"/>
<rect x="432.10" y="655.20" width="10.80" height="52.80" fill="#f2c4b7"/>
<line x1="455.60" y1="656.30" x2="455.60" y2="652.30" stroke="#3a3a3a" stroke-width="1.0"/>
<line x1="452.70" y1="652.30" x2="458.50" y2="652.30" stroke="#3a3a3a" stroke-width="1.0"/>
<rect x="450.20" y="655.80" width="10.80" height="52.20" fill="#d1423f"/>
<line x1="473.90" y1="655.30" x2="473.90" y2="651.30" stroke="#3a3a3a" stroke-width="1.0"/>
<line x1="471.00" y1="651.30" x2="476.80" y2="651.30" stroke="#3a3a3a" stroke-width="1.0"/>
<rect x="468.50" y="654.80" width="10.80" height="53.20" fill="#eaa293"/>
<line x1="492.30" y1="653.20" x2="492.30" y2="648.50" stroke="#3a3a3a" stroke-width="1.0"/>
<line x1="489.40" y1="648.50" x2="495.20" y2="648.50" stroke="#3a3a3a" stroke-width="1.0"/>
<rect x="486.90" y="652.70" width="10.80" height="55.30" fill="#d1423f"/>
<line x1="388.10" y1="626.90" x2="388.10" y2="708.67" stroke="#231f20" stroke-width="1.35"/>
<line x1="384.90" y1="630.00" x2="388.10" y2="630.00" stroke="#231f20" stroke-width="1.35"/>
<text x="380.80" y="632.95" font-size="7.4" class="tk" text-anchor="end">150</text>
<line x1="384.90" y1="656.00" x2="388.10" y2="656.00" stroke="#231f20" stroke-width="1.35"/>
<text x="380.80" y="658.95" font-size="7.4" class="tk" text-anchor="end">100</text>
<line x1="384.90" y1="682.00" x2="388.10" y2="682.00" stroke="#231f20" stroke-width="1.35"/>
<text x="380.80" y="684.95" font-size="7.4" class="tk" text-anchor="end">50</text>
<line x1="384.90" y1="708.00" x2="388.10" y2="708.00" stroke="#231f20" stroke-width="1.35"/>
<text x="380.80" y="710.95" font-size="7.4" class="tk" text-anchor="end">0</text>
<line x1="388.10" y1="708.00" x2="504.60" y2="708.00" stroke="#231f20" stroke-width="1.35"/>
<line x1="400.40" y1="708.00" x2="400.40" y2="710.80" stroke="#231f20" stroke-width="1.35"/>
<line x1="418.60" y1="708.00" x2="418.60" y2="710.80" stroke="#231f20" stroke-width="1.35"/>
<line x1="437.50" y1="708.00" x2="437.50" y2="710.80" stroke="#231f20" stroke-width="1.35"/>
<line x1="455.60" y1="708.00" x2="455.60" y2="710.80" stroke="#231f20" stroke-width="1.35"/>
<line x1="473.90" y1="708.00" x2="473.90" y2="710.80" stroke="#231f20" stroke-width="1.35"/>
<line x1="492.30" y1="708.00" x2="492.30" y2="710.80" stroke="#231f20" stroke-width="1.35"/>
<text x="406.60" y="621.61" font-size="7.0" class="t3" textLength="79.10" lengthAdjust="spacingAndGlyphs">Primary human fibroblasts</text>
<text transform="translate(362.91,702.70) rotate(-90)" font-size="9.0" class="cb" textLength="36.96" lengthAdjust="spacingAndGlyphs">Cell viability</text>
<text transform="translate(362.91,632.30) rotate(-90)" font-size="9.0" class="cb" text-anchor="end" textLength="31.96" lengthAdjust="spacingAndGlyphs">(% control)</text>
<text transform="translate(402.20,720.10) rotate(-45)" font-size="7.4" text-anchor="end" textLength="38.50" lengthAdjust="spacingAndGlyphs">DMSO 0.1%</text>
<text transform="translate(420.40,720.10) rotate(-45)" font-size="7.4" text-anchor="end" textLength="23.60" lengthAdjust="spacingAndGlyphs">LY 1&#956;M</text>
<text transform="translate(439.30,720.10) rotate(-45)" font-size="7.4" text-anchor="end" textLength="29.40" lengthAdjust="spacingAndGlyphs">LY 2.5&#956;M</text>
<text transform="translate(457.40,720.10) rotate(-45)" font-size="7.4" text-anchor="end" textLength="23.60" lengthAdjust="spacingAndGlyphs">LY 5&#956;M</text>
<text transform="translate(475.70,720.10) rotate(-45)" font-size="7.4" text-anchor="end" textLength="29.40" lengthAdjust="spacingAndGlyphs">LY 7.5&#956;M</text>
<text transform="translate(494.10,720.10) rotate(-45)" font-size="7.4" text-anchor="end" textLength="27.60" lengthAdjust="spacingAndGlyphs">LY 10&#956;M</text>
<text x="431.40" y="760.80" font-size="9.6" class="cb" textLength="29.40" lengthAdjust="spacingAndGlyphs">LY500307</text>
<rect x="0.00" y="0.00" width="520.00" height="1.05" fill="#4a4a4a"/>
<rect x="0.00" y="0.00" width="1.10" height="768.00" fill="#4a4a4a"/>
<rect x="518.70" y="0.00" width="1.30" height="768.00" fill="#2e2e2e"/>
<rect x="0.00" y="766.70" width="520.00" height="1.30" fill="#3a3a3a"/>
</svg>
</body></html>
